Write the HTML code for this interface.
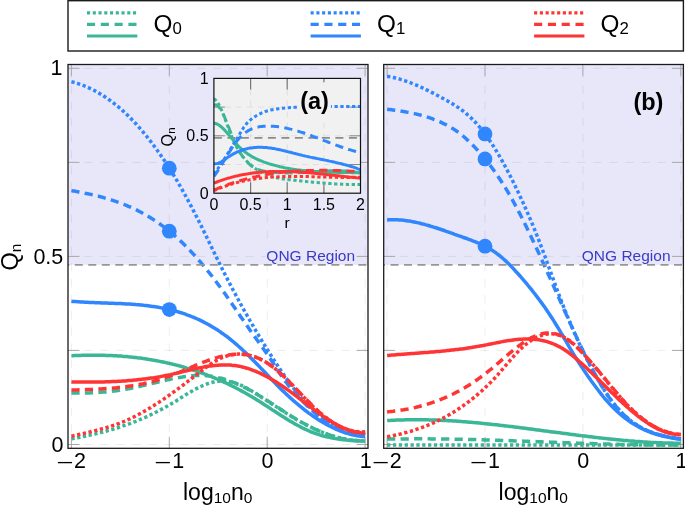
<!DOCTYPE html>
<html><head><meta charset="utf-8"><title>Qn plot</title>
<style>html,body{margin:0;padding:0;background:#fff;overflow:hidden}svg{display:block;will-change:transform}text{font-family:"Liberation Sans",sans-serif}</style>
</head><body>
<svg width="685" height="505" viewBox="0 0 685 505">
<rect width="685" height="505" fill="#fff"/>
<rect x="68" y="0.7" width="615.4" height="50.3" fill="#fff" stroke="#1a1a1a" stroke-width="1.4"/>
<line x1="87.0" y1="12.8" x2="137.3" y2="12.8" stroke="#3bb696" stroke-width="3.3" stroke-dasharray="3.1 2.65"/>
<line x1="87.0" y1="24.4" x2="137.3" y2="24.4" stroke="#3bb696" stroke-width="3.3" stroke-dasharray="8.1 5.7"/>
<line x1="87.0" y1="36" x2="137.3" y2="36" stroke="#3bb696" stroke-width="3.2"/>
<text x="153.5" y="31.6" font-size="24.3" font-family="Liberation Sans, sans-serif" fill="#000">Q<tspan font-size="16.8" dy="2.6">0</tspan></text>
<line x1="310.6" y1="12.8" x2="360.9" y2="12.8" stroke="#2f86fd" stroke-width="3.3" stroke-dasharray="3.1 2.65"/>
<line x1="310.6" y1="24.4" x2="360.9" y2="24.4" stroke="#2f86fd" stroke-width="3.3" stroke-dasharray="8.1 5.7"/>
<line x1="310.6" y1="36" x2="360.9" y2="36" stroke="#2f86fd" stroke-width="3.2"/>
<text x="377.1" y="31.6" font-size="24.3" font-family="Liberation Sans, sans-serif" fill="#000">Q<tspan font-size="16.8" dy="2.6">1</tspan></text>
<line x1="534.1" y1="12.8" x2="584.4" y2="12.8" stroke="#ff3434" stroke-width="3.3" stroke-dasharray="3.1 2.65"/>
<line x1="534.1" y1="24.4" x2="584.4" y2="24.4" stroke="#ff3434" stroke-width="3.3" stroke-dasharray="8.1 5.7"/>
<line x1="534.1" y1="36" x2="584.4" y2="36" stroke="#ff3434" stroke-width="3.2"/>
<text x="600.6" y="31.6" font-size="24.3" font-family="Liberation Sans, sans-serif" fill="#000">Q<tspan font-size="16.8" dy="2.6">2</tspan></text>
<rect x="68.0" y="64.5" width="300.0" height="200.3" fill="#e8e7fa"/>
<line x1="68.0" y1="444.5" x2="368.0" y2="444.5" stroke="#000" stroke-opacity="0.075" stroke-width="1" stroke-dasharray="8.4 7.7"/>
<line x1="68.0" y1="350.4" x2="368.0" y2="350.4" stroke="#000" stroke-opacity="0.075" stroke-width="1" stroke-dasharray="8.4 7.7"/>
<line x1="68.0" y1="256.4" x2="368.0" y2="256.4" stroke="#000" stroke-opacity="0.075" stroke-width="1" stroke-dasharray="8.4 7.7"/>
<line x1="68.0" y1="162.4" x2="368.0" y2="162.4" stroke="#000" stroke-opacity="0.075" stroke-width="1" stroke-dasharray="8.4 7.7"/>
<line x1="68.0" y1="68.3" x2="368.0" y2="68.3" stroke="#000" stroke-opacity="0.075" stroke-width="1" stroke-dasharray="8.4 7.7"/>
<line x1="71.4" y1="448.3" x2="71.4" y2="64.5" stroke="#000" stroke-opacity="0.075" stroke-width="1" stroke-dasharray="8.4 7.7"/>
<line x1="169.3" y1="448.3" x2="169.3" y2="64.5" stroke="#000" stroke-opacity="0.075" stroke-width="1" stroke-dasharray="8.4 7.7"/>
<line x1="267.2" y1="448.3" x2="267.2" y2="64.5" stroke="#000" stroke-opacity="0.075" stroke-width="1" stroke-dasharray="8.4 7.7"/>
<line x1="365.1" y1="448.3" x2="365.1" y2="64.5" stroke="#000" stroke-opacity="0.075" stroke-width="1" stroke-dasharray="8.4 7.7"/>
<line x1="68.0" y1="444.5" x2="79.5" y2="444.5" stroke="#aaa" stroke-width="1"/>
<line x1="356.5" y1="444.5" x2="368.0" y2="444.5" stroke="#aaa" stroke-width="1"/>
<line x1="68.0" y1="350.4" x2="79.5" y2="350.4" stroke="#aaa" stroke-width="1"/>
<line x1="356.5" y1="350.4" x2="368.0" y2="350.4" stroke="#aaa" stroke-width="1"/>
<line x1="68.0" y1="256.4" x2="79.5" y2="256.4" stroke="#aaa" stroke-width="1"/>
<line x1="356.5" y1="256.4" x2="368.0" y2="256.4" stroke="#aaa" stroke-width="1"/>
<line x1="68.0" y1="162.4" x2="79.5" y2="162.4" stroke="#aaa" stroke-width="1"/>
<line x1="356.5" y1="162.4" x2="368.0" y2="162.4" stroke="#aaa" stroke-width="1"/>
<line x1="68.0" y1="68.3" x2="79.5" y2="68.3" stroke="#aaa" stroke-width="1"/>
<line x1="356.5" y1="68.3" x2="368.0" y2="68.3" stroke="#aaa" stroke-width="1"/>
<line x1="71.4" y1="448.3" x2="71.4" y2="436.8" stroke="#aaa" stroke-width="1"/>
<line x1="71.4" y1="64.5" x2="71.4" y2="76.0" stroke="#aaa" stroke-width="1"/>
<line x1="169.3" y1="448.3" x2="169.3" y2="436.8" stroke="#aaa" stroke-width="1"/>
<line x1="169.3" y1="64.5" x2="169.3" y2="76.0" stroke="#aaa" stroke-width="1"/>
<line x1="267.2" y1="448.3" x2="267.2" y2="436.8" stroke="#aaa" stroke-width="1"/>
<line x1="267.2" y1="64.5" x2="267.2" y2="76.0" stroke="#aaa" stroke-width="1"/>
<line x1="365.1" y1="448.3" x2="365.1" y2="436.8" stroke="#aaa" stroke-width="1"/>
<line x1="365.1" y1="64.5" x2="365.1" y2="76.0" stroke="#aaa" stroke-width="1"/>
<rect x="266.2" y="247" width="90" height="16.2" fill="#e8e7fa"/>
<text x="355.1" y="260.5" text-anchor="end" font-size="15.5" fill="#3a3ac6" font-family="Liberation Sans, sans-serif">QNG Region</text>
<rect x="383.7" y="64.5" width="299.7" height="200.3" fill="#e8e7fa"/>
<line x1="383.7" y1="444.5" x2="683.4" y2="444.5" stroke="#000" stroke-opacity="0.075" stroke-width="1" stroke-dasharray="8.4 7.7"/>
<line x1="383.7" y1="350.4" x2="683.4" y2="350.4" stroke="#000" stroke-opacity="0.075" stroke-width="1" stroke-dasharray="8.4 7.7"/>
<line x1="383.7" y1="256.4" x2="683.4" y2="256.4" stroke="#000" stroke-opacity="0.075" stroke-width="1" stroke-dasharray="8.4 7.7"/>
<line x1="383.7" y1="162.4" x2="683.4" y2="162.4" stroke="#000" stroke-opacity="0.075" stroke-width="1" stroke-dasharray="8.4 7.7"/>
<line x1="383.7" y1="68.3" x2="683.4" y2="68.3" stroke="#000" stroke-opacity="0.075" stroke-width="1" stroke-dasharray="8.4 7.7"/>
<line x1="387.1" y1="448.3" x2="387.1" y2="64.5" stroke="#000" stroke-opacity="0.075" stroke-width="1" stroke-dasharray="8.4 7.7"/>
<line x1="485.0" y1="448.3" x2="485.0" y2="64.5" stroke="#000" stroke-opacity="0.075" stroke-width="1" stroke-dasharray="8.4 7.7"/>
<line x1="582.9" y1="448.3" x2="582.9" y2="64.5" stroke="#000" stroke-opacity="0.075" stroke-width="1" stroke-dasharray="8.4 7.7"/>
<line x1="680.8" y1="448.3" x2="680.8" y2="64.5" stroke="#000" stroke-opacity="0.075" stroke-width="1" stroke-dasharray="8.4 7.7"/>
<line x1="383.7" y1="444.5" x2="395.2" y2="444.5" stroke="#aaa" stroke-width="1"/>
<line x1="671.9" y1="444.5" x2="683.4" y2="444.5" stroke="#aaa" stroke-width="1"/>
<line x1="383.7" y1="350.4" x2="395.2" y2="350.4" stroke="#aaa" stroke-width="1"/>
<line x1="671.9" y1="350.4" x2="683.4" y2="350.4" stroke="#aaa" stroke-width="1"/>
<line x1="383.7" y1="256.4" x2="395.2" y2="256.4" stroke="#aaa" stroke-width="1"/>
<line x1="671.9" y1="256.4" x2="683.4" y2="256.4" stroke="#aaa" stroke-width="1"/>
<line x1="383.7" y1="162.4" x2="395.2" y2="162.4" stroke="#aaa" stroke-width="1"/>
<line x1="671.9" y1="162.4" x2="683.4" y2="162.4" stroke="#aaa" stroke-width="1"/>
<line x1="383.7" y1="68.3" x2="395.2" y2="68.3" stroke="#aaa" stroke-width="1"/>
<line x1="671.9" y1="68.3" x2="683.4" y2="68.3" stroke="#aaa" stroke-width="1"/>
<line x1="387.1" y1="448.3" x2="387.1" y2="436.8" stroke="#aaa" stroke-width="1"/>
<line x1="387.1" y1="64.5" x2="387.1" y2="76.0" stroke="#aaa" stroke-width="1"/>
<line x1="485.0" y1="448.3" x2="485.0" y2="436.8" stroke="#aaa" stroke-width="1"/>
<line x1="485.0" y1="64.5" x2="485.0" y2="76.0" stroke="#aaa" stroke-width="1"/>
<line x1="582.9" y1="448.3" x2="582.9" y2="436.8" stroke="#aaa" stroke-width="1"/>
<line x1="582.9" y1="64.5" x2="582.9" y2="76.0" stroke="#aaa" stroke-width="1"/>
<line x1="680.8" y1="448.3" x2="680.8" y2="436.8" stroke="#aaa" stroke-width="1"/>
<line x1="680.8" y1="64.5" x2="680.8" y2="76.0" stroke="#aaa" stroke-width="1"/>
<rect x="581.6" y="247" width="90" height="16.2" fill="#e8e7fa"/>
<text x="670.5" y="260.5" text-anchor="end" font-size="15.5" fill="#3a3ac6" font-family="Liberation Sans, sans-serif">QNG Region</text>
<clipPath id="ca"><rect x="68" y="64.5" width="300" height="383.8"/></clipPath>
<clipPath id="cb"><rect x="383.7" y="64.5" width="299.7" height="383.8"/></clipPath>
<path d="M71.4 438.9 L72.9 438.6 L74.4 438.3 L75.9 438.0 L77.4 437.7 L78.9 437.5 L80.4 437.2 L81.9 436.9 L83.4 436.5 L84.9 436.2 L86.4 435.9 L87.9 435.6 L89.4 435.3 L90.9 434.9 L92.4 434.6 L93.9 434.2 L95.4 433.9 L96.9 433.5 L98.4 433.2 L99.9 432.8 L101.4 432.4 L102.9 432.0 L104.4 431.6 L105.9 431.2 L107.4 430.8 L108.9 430.4 L110.4 429.9 L111.9 429.5 L113.4 429.1 L114.9 428.6 L116.4 428.1 L117.9 427.7 L119.4 427.2 L120.9 426.7 L122.4 426.2 L123.9 425.7 L125.4 425.2 L126.9 424.6 L128.4 424.1 L129.9 423.6 L131.4 423.0 L132.9 422.4 L134.4 421.8 L135.9 421.3 L137.4 420.7 L138.9 420.0 L140.4 419.4 L141.9 418.8 L143.4 418.1 L144.9 417.5 L146.4 416.8 L147.9 416.1 L149.4 415.4 L150.9 414.7 L152.4 414.0 L153.9 413.3 L155.4 412.5 L156.9 411.8 L158.4 411.0 L159.9 410.2 L161.4 409.4 L162.9 408.6 L164.4 407.8 L165.9 406.9 L167.4 406.1 L168.9 405.2 L170.4 404.3 L171.9 403.4 L173.4 402.5 L174.9 401.6 L176.4 400.7 L177.9 399.7 L179.4 398.8 L180.9 397.8 L182.4 396.9 L183.9 396.0 L185.4 395.0 L186.9 394.1 L188.4 393.2 L189.9 392.3 L191.4 391.4 L192.9 390.6 L194.4 389.7 L195.9 388.9 L197.4 388.1 L198.9 387.4 L200.4 386.6 L201.9 386.0 L203.4 385.3 L204.9 384.7 L206.4 384.1 L207.9 383.6 L209.4 383.1 L210.9 382.7 L212.4 382.3 L213.9 382.0 L215.4 381.7 L216.9 381.5 L218.4 381.3 L219.9 381.2 L221.4 381.1 L222.9 381.1 L224.4 381.1 L225.9 381.2 L227.4 381.4 L228.9 381.6 L230.4 381.8 L231.9 382.1 L233.4 382.5 L234.9 382.9 L236.4 383.4 L237.9 383.9 L239.4 384.5 L240.9 385.2 L242.4 385.9 L243.9 386.6 L245.4 387.4 L246.9 388.2 L248.4 389.0 L249.9 389.9 L251.4 390.8 L252.9 391.7 L254.4 392.6 L255.9 393.6 L257.4 394.5 L258.9 395.4 L260.4 396.4 L261.9 397.4 L263.4 398.3 L264.9 399.3 L266.4 400.3 L267.9 401.2 L269.4 402.2 L270.9 403.2 L272.4 404.2 L273.9 405.2 L275.4 406.1 L276.9 407.1 L278.4 408.1 L279.9 409.1 L281.4 410.1 L282.9 411.0 L284.4 412.0 L285.9 412.9 L287.4 413.9 L288.9 414.8 L290.4 415.8 L291.9 416.7 L293.4 417.6 L294.9 418.5 L296.4 419.4 L297.9 420.3 L299.4 421.1 L300.9 422.0 L302.4 422.8 L303.9 423.6 L305.4 424.4 L306.9 425.2 L308.4 425.9 L309.9 426.7 L311.4 427.4 L312.9 428.1 L314.4 428.8 L315.9 429.5 L317.4 430.2 L318.9 430.8 L320.4 431.4 L321.9 432.0 L323.4 432.6 L324.9 433.2 L326.4 433.7 L327.9 434.3 L329.4 434.8 L330.9 435.3 L332.4 435.8 L333.9 436.2 L335.4 436.7 L336.9 437.1 L338.4 437.5 L339.9 437.8 L341.4 438.2 L342.9 438.5 L344.4 438.8 L345.9 439.1 L347.4 439.4 L348.9 439.7 L350.4 439.9 L351.9 440.1 L353.4 440.3 L354.9 440.4 L356.4 440.6 L357.9 440.7 L359.4 440.8 L360.9 440.9 L362.4 440.9 L363.9 440.9 L365.1 440.9" fill="none" stroke="#3bb696" stroke-width="3.5" stroke-dasharray="3.3 2.55" clip-path="url(#ca)"/>
<path d="M71.4 393.1 L72.9 393.1 L74.4 393.1 L75.9 393.1 L77.4 393.1 L78.9 393.1 L80.4 393.1 L81.9 393.1 L83.4 393.1 L84.9 393.0 L86.4 393.0 L87.9 392.9 L89.4 392.9 L90.9 392.8 L92.4 392.8 L93.9 392.7 L95.4 392.6 L96.9 392.5 L98.4 392.4 L99.9 392.3 L101.4 392.2 L102.9 392.1 L104.4 392.0 L105.9 391.9 L107.4 391.7 L108.9 391.6 L110.4 391.4 L111.9 391.2 L113.4 391.1 L114.9 390.9 L116.4 390.7 L117.9 390.5 L119.4 390.3 L120.9 390.0 L122.4 389.8 L123.9 389.6 L125.4 389.3 L126.9 389.1 L128.4 388.8 L129.9 388.5 L131.4 388.2 L132.9 387.9 L134.4 387.6 L135.9 387.3 L137.4 386.9 L138.9 386.6 L140.4 386.3 L141.9 385.9 L143.4 385.6 L144.9 385.2 L146.4 384.9 L147.9 384.5 L149.4 384.2 L150.9 383.8 L152.4 383.4 L153.9 383.1 L155.4 382.7 L156.9 382.3 L158.4 382.0 L159.9 381.6 L161.4 381.3 L162.9 380.9 L164.4 380.6 L165.9 380.2 L167.4 379.9 L168.9 379.6 L170.4 379.2 L171.9 378.9 L173.4 378.6 L174.9 378.3 L176.4 378.0 L177.9 377.7 L179.4 377.5 L180.9 377.2 L182.4 377.0 L183.9 376.7 L185.4 376.5 L186.9 376.3 L188.4 376.1 L189.9 376.0 L191.4 375.8 L192.9 375.7 L194.4 375.6 L195.9 375.5 L197.4 375.5 L198.9 375.4 L200.4 375.4 L201.9 375.5 L203.4 375.5 L204.9 375.6 L206.4 375.7 L207.9 375.8 L209.4 376.0 L210.9 376.2 L212.4 376.4 L213.9 376.6 L215.4 376.9 L216.9 377.2 L218.4 377.6 L219.9 377.9 L221.4 378.3 L222.9 378.7 L224.4 379.2 L225.9 379.7 L227.4 380.1 L228.9 380.7 L230.4 381.2 L231.9 381.8 L233.4 382.4 L234.9 383.0 L236.4 383.6 L237.9 384.3 L239.4 384.9 L240.9 385.6 L242.4 386.3 L243.9 387.1 L245.4 387.8 L246.9 388.6 L248.4 389.4 L249.9 390.2 L251.4 391.1 L252.9 391.9 L254.4 392.8 L255.9 393.6 L257.4 394.5 L258.9 395.4 L260.4 396.3 L261.9 397.3 L263.4 398.2 L264.9 399.1 L266.4 400.1 L267.9 401.0 L269.4 402.0 L270.9 403.0 L272.4 403.9 L273.9 404.9 L275.4 405.9 L276.9 406.9 L278.4 407.8 L279.9 408.8 L281.4 409.8 L282.9 410.8 L284.4 411.7 L285.9 412.7 L287.4 413.6 L288.9 414.6 L290.4 415.5 L291.9 416.5 L293.4 417.4 L294.9 418.3 L296.4 419.2 L297.9 420.1 L299.4 421.0 L300.9 421.8 L302.4 422.7 L303.9 423.5 L305.4 424.3 L306.9 425.1 L308.4 425.9 L309.9 426.7 L311.4 427.4 L312.9 428.1 L314.4 428.9 L315.9 429.6 L317.4 430.2 L318.9 430.9 L320.4 431.5 L321.9 432.2 L323.4 432.8 L324.9 433.4 L326.4 433.9 L327.9 434.5 L329.4 435.0 L330.9 435.5 L332.4 436.0 L333.9 436.4 L335.4 436.9 L336.9 437.3 L338.4 437.7 L339.9 438.1 L341.4 438.4 L342.9 438.7 L344.4 439.1 L345.9 439.3 L347.4 439.6 L348.9 439.8 L350.4 440.0 L351.9 440.2 L353.4 440.4 L354.9 440.5 L356.4 440.6 L357.9 440.7 L359.4 440.7 L360.9 440.8 L362.4 440.8 L363.9 440.7 L365.1 440.7" fill="none" stroke="#3bb696" stroke-width="3.5" stroke-dasharray="8.2 5.3" clip-path="url(#ca)"/>
<path d="M71.4 355.7 L72.9 355.7 L74.4 355.6 L75.9 355.5 L77.4 355.5 L78.9 355.4 L80.4 355.4 L81.9 355.3 L83.4 355.3 L84.9 355.3 L86.4 355.2 L87.9 355.2 L89.4 355.2 L90.9 355.2 L92.4 355.2 L93.9 355.2 L95.4 355.2 L96.9 355.2 L98.4 355.2 L99.9 355.2 L101.4 355.2 L102.9 355.3 L104.4 355.3 L105.9 355.4 L107.4 355.4 L108.9 355.5 L110.4 355.5 L111.9 355.6 L113.4 355.7 L114.9 355.8 L116.4 355.8 L117.9 355.9 L119.4 356.0 L120.9 356.1 L122.4 356.3 L123.9 356.4 L125.4 356.5 L126.9 356.6 L128.4 356.8 L129.9 356.9 L131.4 357.1 L132.9 357.2 L134.4 357.4 L135.9 357.6 L137.4 357.8 L138.9 357.9 L140.4 358.1 L141.9 358.3 L143.4 358.6 L144.9 358.8 L146.4 359.0 L147.9 359.2 L149.4 359.5 L150.9 359.7 L152.4 360.0 L153.9 360.2 L155.4 360.5 L156.9 360.8 L158.4 361.1 L159.9 361.4 L161.4 361.7 L162.9 362.0 L164.4 362.3 L165.9 362.6 L167.4 363.0 L168.9 363.3 L170.4 363.6 L171.9 364.0 L173.4 364.4 L174.9 364.8 L176.4 365.1 L177.9 365.5 L179.4 365.9 L180.9 366.3 L182.4 366.8 L183.9 367.2 L185.4 367.6 L186.9 368.1 L188.4 368.5 L189.9 369.0 L191.4 369.5 L192.9 370.0 L194.4 370.4 L195.9 370.9 L197.4 371.5 L198.9 372.0 L200.4 372.5 L201.9 373.0 L203.4 373.6 L204.9 374.2 L206.4 374.7 L207.9 375.3 L209.4 375.9 L210.9 376.5 L212.4 377.1 L213.9 377.7 L215.4 378.3 L216.9 379.0 L218.4 379.6 L219.9 380.3 L221.4 380.9 L222.9 381.6 L224.4 382.3 L225.9 383.0 L227.4 383.7 L228.9 384.4 L230.4 385.2 L231.9 385.9 L233.4 386.7 L234.9 387.4 L236.4 388.2 L237.9 389.0 L239.4 389.8 L240.9 390.6 L242.4 391.4 L243.9 392.2 L245.4 393.1 L246.9 393.9 L248.4 394.8 L249.9 395.7 L251.4 396.5 L252.9 397.4 L254.4 398.3 L255.9 399.3 L257.4 400.2 L258.9 401.1 L260.4 402.1 L261.9 403.0 L263.4 404.0 L264.9 405.0 L266.4 405.9 L267.9 406.9 L269.4 407.9 L270.9 408.9 L272.4 409.9 L273.9 410.8 L275.4 411.8 L276.9 412.8 L278.4 413.8 L279.9 414.7 L281.4 415.7 L282.9 416.6 L284.4 417.6 L285.9 418.5 L287.4 419.4 L288.9 420.4 L290.4 421.3 L291.9 422.1 L293.4 423.0 L294.9 423.9 L296.4 424.7 L297.9 425.5 L299.4 426.3 L300.9 427.1 L302.4 427.9 L303.9 428.6 L305.4 429.3 L306.9 430.0 L308.4 430.7 L309.9 431.3 L311.4 432.0 L312.9 432.5 L314.4 433.1 L315.9 433.6 L317.4 434.2 L318.9 434.6 L320.4 435.1 L321.9 435.5 L323.4 436.0 L324.9 436.4 L326.4 436.7 L327.9 437.1 L329.4 437.4 L330.9 437.7 L332.4 438.0 L333.9 438.3 L335.4 438.6 L336.9 438.8 L338.4 439.1 L339.9 439.3 L341.4 439.5 L342.9 439.7 L344.4 439.8 L345.9 440.0 L347.4 440.1 L348.9 440.3 L350.4 440.4 L351.9 440.5 L353.4 440.6 L354.9 440.7 L356.4 440.8 L357.9 440.9 L359.4 440.9 L360.9 441.0 L362.4 441.1 L363.9 441.1 L365.1 441.2" fill="none" stroke="#3bb696" stroke-width="3.5" clip-path="url(#ca)"/>
<path d="M71.4 81.7 L72.9 82.1 L74.4 82.5 L75.9 82.9 L77.4 83.4 L78.9 83.9 L80.4 84.4 L81.9 84.9 L83.4 85.5 L84.9 86.1 L86.4 86.7 L87.9 87.4 L89.4 88.1 L90.9 88.8 L92.4 89.5 L93.9 90.3 L95.4 91.1 L96.9 91.9 L98.4 92.8 L99.9 93.7 L101.4 94.6 L102.9 95.5 L104.4 96.5 L105.9 97.5 L107.4 98.5 L108.9 99.6 L110.4 100.7 L111.9 101.8 L113.4 102.9 L114.9 104.1 L116.4 105.3 L117.9 106.5 L119.4 107.8 L120.9 109.1 L122.4 110.4 L123.9 111.8 L125.4 113.2 L126.9 114.6 L128.4 116.1 L129.9 117.6 L131.4 119.1 L132.9 120.6 L134.4 122.2 L135.9 123.8 L137.4 125.5 L138.9 127.1 L140.4 128.9 L141.9 130.6 L143.4 132.4 L144.9 134.2 L146.4 136.0 L147.9 137.9 L149.4 139.8 L150.9 141.7 L152.4 143.7 L153.9 145.7 L155.4 147.7 L156.9 149.8 L158.4 151.9 L159.9 154.0 L161.4 156.2 L162.9 158.4 L164.4 160.6 L165.9 162.9 L167.4 165.2 L168.9 167.5 L170.4 169.9 L171.9 172.3 L173.4 174.8 L174.9 177.2 L176.4 179.7 L177.9 182.3 L179.4 184.9 L180.9 187.5 L182.4 190.1 L183.9 192.8 L185.4 195.5 L186.9 198.3 L188.4 201.1 L189.9 203.9 L191.4 206.7 L192.9 209.6 L194.4 212.5 L195.9 215.4 L197.4 218.3 L198.9 221.3 L200.4 224.3 L201.9 227.3 L203.4 230.4 L204.9 233.4 L206.4 236.5 L207.9 239.6 L209.4 242.7 L210.9 245.8 L212.4 248.9 L213.9 252.0 L215.4 255.1 L216.9 258.2 L218.4 261.2 L219.9 264.3 L221.4 267.3 L222.9 270.3 L224.4 273.2 L225.9 276.2 L227.4 279.1 L228.9 282.0 L230.4 284.9 L231.9 287.8 L233.4 290.6 L234.9 293.4 L236.4 296.2 L237.9 299.0 L239.4 301.8 L240.9 304.5 L242.4 307.2 L243.9 309.9 L245.4 312.6 L246.9 315.2 L248.4 317.9 L249.9 320.5 L251.4 323.1 L252.9 325.7 L254.4 328.2 L255.9 330.8 L257.4 333.3 L258.9 335.8 L260.4 338.3 L261.9 340.8 L263.4 343.3 L264.9 345.7 L266.4 348.1 L267.9 350.5 L269.4 352.9 L270.9 355.3 L272.4 357.6 L273.9 360.0 L275.4 362.3 L276.9 364.5 L278.4 366.8 L279.9 369.0 L281.4 371.2 L282.9 373.4 L284.4 375.6 L285.9 377.7 L287.4 379.8 L288.9 381.8 L290.4 383.9 L291.9 385.9 L293.4 387.9 L294.9 389.8 L296.4 391.8 L297.9 393.7 L299.4 395.6 L300.9 397.4 L302.4 399.2 L303.9 401.0 L305.4 402.7 L306.9 404.4 L308.4 406.0 L309.9 407.6 L311.4 409.1 L312.9 410.5 L314.4 411.9 L315.9 413.3 L317.4 414.6 L318.9 415.8 L320.4 417.0 L321.9 418.1 L323.4 419.2 L324.9 420.2 L326.4 421.1 L327.9 422.0 L329.4 422.8 L330.9 423.6 L332.4 424.4 L333.9 425.1 L335.4 425.7 L336.9 426.3 L338.4 426.9 L339.9 427.5 L341.4 428.0 L342.9 428.5 L344.4 429.0 L345.9 429.5 L347.4 429.9 L348.9 430.3 L350.4 430.7 L351.9 431.2 L353.4 431.6 L354.9 432.0 L356.4 432.4 L357.9 432.8 L359.4 433.2 L360.9 433.6 L362.4 434.0 L363.9 434.5 L365.1 434.8" fill="none" stroke="#2f86fd" stroke-width="3.5" stroke-dasharray="3.3 2.55" clip-path="url(#ca)"/>
<path d="M71.4 190.6 L72.9 190.9 L74.4 191.1 L75.9 191.4 L77.4 191.7 L78.9 192.0 L80.4 192.3 L81.9 192.5 L83.4 192.8 L84.9 193.2 L86.4 193.5 L87.9 193.8 L89.4 194.1 L90.9 194.4 L92.4 194.8 L93.9 195.1 L95.4 195.5 L96.9 195.9 L98.4 196.2 L99.9 196.6 L101.4 197.0 L102.9 197.4 L104.4 197.9 L105.9 198.3 L107.4 198.7 L108.9 199.2 L110.4 199.6 L111.9 200.1 L113.4 200.6 L114.9 201.1 L116.4 201.6 L117.9 202.2 L119.4 202.7 L120.9 203.3 L122.4 203.8 L123.9 204.4 L125.4 205.0 L126.9 205.6 L128.4 206.3 L129.9 206.9 L131.4 207.6 L132.9 208.3 L134.4 209.0 L135.9 209.7 L137.4 210.4 L138.9 211.2 L140.4 212.0 L141.9 212.8 L143.4 213.6 L144.9 214.4 L146.4 215.3 L147.9 216.2 L149.4 217.1 L150.9 218.0 L152.4 218.9 L153.9 219.9 L155.4 220.9 L156.9 221.9 L158.4 222.9 L159.9 224.0 L161.4 225.1 L162.9 226.2 L164.4 227.3 L165.9 228.5 L167.4 229.6 L168.9 230.8 L170.4 232.1 L171.9 233.3 L173.4 234.6 L174.9 235.9 L176.4 237.2 L177.9 238.6 L179.4 240.0 L180.9 241.4 L182.4 242.8 L183.9 244.3 L185.4 245.8 L186.9 247.3 L188.4 248.8 L189.9 250.4 L191.4 252.0 L192.9 253.6 L194.4 255.2 L195.9 256.9 L197.4 258.6 L198.9 260.3 L200.4 262.0 L201.9 263.8 L203.4 265.6 L204.9 267.4 L206.4 269.2 L207.9 271.1 L209.4 272.9 L210.9 274.8 L212.4 276.8 L213.9 278.7 L215.4 280.7 L216.9 282.7 L218.4 284.7 L219.9 286.7 L221.4 288.8 L222.9 290.9 L224.4 293.0 L225.9 295.1 L227.4 297.3 L228.9 299.4 L230.4 301.6 L231.9 303.8 L233.4 305.9 L234.9 308.1 L236.4 310.3 L237.9 312.5 L239.4 314.7 L240.9 316.9 L242.4 319.1 L243.9 321.2 L245.4 323.4 L246.9 325.6 L248.4 327.7 L249.9 329.9 L251.4 332.0 L252.9 334.1 L254.4 336.2 L255.9 338.3 L257.4 340.4 L258.9 342.5 L260.4 344.6 L261.9 346.7 L263.4 348.8 L264.9 350.9 L266.4 353.1 L267.9 355.3 L269.4 357.5 L270.9 359.7 L272.4 362.0 L273.9 364.3 L275.4 366.6 L276.9 368.9 L278.4 371.2 L279.9 373.5 L281.4 375.7 L282.9 377.9 L284.4 380.0 L285.9 382.0 L287.4 384.0 L288.9 385.9 L290.4 387.7 L291.9 389.4 L293.4 391.2 L294.9 392.8 L296.4 394.5 L297.9 396.1 L299.4 397.8 L300.9 399.4 L302.4 401.0 L303.9 402.5 L305.4 404.0 L306.9 405.5 L308.4 407.0 L309.9 408.5 L311.4 409.9 L312.9 411.2 L314.4 412.5 L315.9 413.8 L317.4 415.1 L318.9 416.3 L320.4 417.4 L321.9 418.5 L323.4 419.6 L324.9 420.5 L326.4 421.5 L327.9 422.4 L329.4 423.2 L330.9 424.0 L332.4 424.8 L333.9 425.5 L335.4 426.2 L336.9 426.8 L338.4 427.4 L339.9 428.0 L341.4 428.5 L342.9 429.0 L344.4 429.5 L345.9 430.0 L347.4 430.5 L348.9 430.9 L350.4 431.3 L351.9 431.7 L353.4 432.1 L354.9 432.5 L356.4 432.9 L357.9 433.3 L359.4 433.7 L360.9 434.1 L362.4 434.5 L363.9 434.9 L365.1 435.2" fill="none" stroke="#2f86fd" stroke-width="3.5" stroke-dasharray="8.2 5.3" clip-path="url(#ca)"/>
<path d="M71.4 301.2 L72.9 301.4 L74.4 301.5 L75.9 301.6 L77.4 301.7 L78.9 301.8 L80.4 301.9 L81.9 302.0 L83.4 302.1 L84.9 302.2 L86.4 302.3 L87.9 302.3 L89.4 302.4 L90.9 302.5 L92.4 302.6 L93.9 302.6 L95.4 302.7 L96.9 302.7 L98.4 302.8 L99.9 302.8 L101.4 302.9 L102.9 302.9 L104.4 303.0 L105.9 303.1 L107.4 303.1 L108.9 303.2 L110.4 303.2 L111.9 303.3 L113.4 303.3 L114.9 303.4 L116.4 303.4 L117.9 303.5 L119.4 303.6 L120.9 303.6 L122.4 303.7 L123.9 303.8 L125.4 303.9 L126.9 303.9 L128.4 304.0 L129.9 304.1 L131.4 304.2 L132.9 304.3 L134.4 304.4 L135.9 304.6 L137.4 304.7 L138.9 304.8 L140.4 305.0 L141.9 305.1 L143.4 305.3 L144.9 305.4 L146.4 305.6 L147.9 305.8 L149.4 306.0 L150.9 306.2 L152.4 306.4 L153.9 306.6 L155.4 306.8 L156.9 307.1 L158.4 307.3 L159.9 307.6 L161.4 307.9 L162.9 308.2 L164.4 308.5 L165.9 308.8 L167.4 309.1 L168.9 309.5 L170.4 309.8 L171.9 310.2 L173.4 310.6 L174.9 311.0 L176.4 311.4 L177.9 311.8 L179.4 312.3 L180.9 312.7 L182.4 313.2 L183.9 313.7 L185.4 314.2 L186.9 314.8 L188.4 315.3 L189.9 315.9 L191.4 316.5 L192.9 317.1 L194.4 317.7 L195.9 318.4 L197.4 319.0 L198.9 319.7 L200.4 320.4 L201.9 321.1 L203.4 321.9 L204.9 322.7 L206.4 323.5 L207.9 324.3 L209.4 325.1 L210.9 326.0 L212.4 326.9 L213.9 327.8 L215.4 328.7 L216.9 329.6 L218.4 330.6 L219.9 331.6 L221.4 332.7 L222.9 333.7 L224.4 334.8 L225.9 335.9 L227.4 337.0 L228.9 338.2 L230.4 339.4 L231.9 340.6 L233.4 341.8 L234.9 343.1 L236.4 344.4 L237.9 345.7 L239.4 347.0 L240.9 348.4 L242.4 349.8 L243.9 351.2 L245.4 352.6 L246.9 354.0 L248.4 355.5 L249.9 356.9 L251.4 358.4 L252.9 359.9 L254.4 361.4 L255.9 363.0 L257.4 364.5 L258.9 366.1 L260.4 367.6 L261.9 369.2 L263.4 370.8 L264.9 372.3 L266.4 373.9 L267.9 375.5 L269.4 377.1 L270.9 378.7 L272.4 380.2 L273.9 381.8 L275.4 383.4 L276.9 384.9 L278.4 386.4 L279.9 387.9 L281.4 389.4 L282.9 390.9 L284.4 392.3 L285.9 393.7 L287.4 395.1 L288.9 396.5 L290.4 397.9 L291.9 399.2 L293.4 400.6 L294.9 401.9 L296.4 403.2 L297.9 404.4 L299.4 405.7 L300.9 406.9 L302.4 408.1 L303.9 409.3 L305.4 410.5 L306.9 411.6 L308.4 412.8 L309.9 413.9 L311.4 414.9 L312.9 416.0 L314.4 417.0 L315.9 418.0 L317.4 419.0 L318.9 420.0 L320.4 420.9 L321.9 421.8 L323.4 422.7 L324.9 423.6 L326.4 424.4 L327.9 425.2 L329.4 426.0 L330.9 426.8 L332.4 427.5 L333.9 428.2 L335.4 428.9 L336.9 429.6 L338.4 430.2 L339.9 430.8 L341.4 431.4 L342.9 431.9 L344.4 432.5 L345.9 433.0 L347.4 433.4 L348.9 433.9 L350.4 434.3 L351.9 434.7 L353.4 435.0 L354.9 435.3 L356.4 435.6 L357.9 435.9 L359.4 436.1 L360.9 436.3 L362.4 436.5 L363.9 436.6 L365.1 436.7" fill="none" stroke="#2f86fd" stroke-width="3.5" clip-path="url(#ca)"/>
<path d="M71.4 436.3 L72.9 435.9 L74.4 435.5 L75.9 435.2 L77.4 434.9 L78.9 434.5 L80.4 434.2 L81.9 433.8 L83.4 433.5 L84.9 433.1 L86.4 432.8 L87.9 432.4 L89.4 432.1 L90.9 431.7 L92.4 431.3 L93.9 431.0 L95.4 430.6 L96.9 430.2 L98.4 429.8 L99.9 429.4 L101.4 429.0 L102.9 428.6 L104.4 428.2 L105.9 427.8 L107.4 427.3 L108.9 426.9 L110.4 426.4 L111.9 425.9 L113.4 425.4 L114.9 424.9 L116.4 424.4 L117.9 423.8 L119.4 423.3 L120.9 422.7 L122.4 422.1 L123.9 421.5 L125.4 420.9 L126.9 420.2 L128.4 419.5 L129.9 418.9 L131.4 418.1 L132.9 417.4 L134.4 416.7 L135.9 415.9 L137.4 415.1 L138.9 414.3 L140.4 413.5 L141.9 412.7 L143.4 411.8 L144.9 410.9 L146.4 410.1 L147.9 409.2 L149.4 408.3 L150.9 407.4 L152.4 406.4 L153.9 405.5 L155.4 404.5 L156.9 403.6 L158.4 402.6 L159.9 401.6 L161.4 400.6 L162.9 399.6 L164.4 398.6 L165.9 397.5 L167.4 396.5 L168.9 395.4 L170.4 394.4 L171.9 393.3 L173.4 392.2 L174.9 391.1 L176.4 390.0 L177.9 388.9 L179.4 387.8 L180.9 386.7 L182.4 385.6 L183.9 384.5 L185.4 383.3 L186.9 382.2 L188.4 381.0 L189.9 379.9 L191.4 378.7 L192.9 377.5 L194.4 376.4 L195.9 375.2 L197.4 374.0 L198.9 372.8 L200.4 371.7 L201.9 370.5 L203.4 369.4 L204.9 368.2 L206.4 367.1 L207.9 366.1 L209.4 365.0 L210.9 364.0 L212.4 363.0 L213.9 362.0 L215.4 361.1 L216.9 360.3 L218.4 359.5 L219.9 358.7 L221.4 358.0 L222.9 357.4 L224.4 356.8 L225.9 356.3 L227.4 355.8 L228.9 355.4 L230.4 355.1 L231.9 354.8 L233.4 354.5 L234.9 354.4 L236.4 354.2 L237.9 354.1 L239.4 354.1 L240.9 354.1 L242.4 354.2 L243.9 354.4 L245.4 354.5 L246.9 354.8 L248.4 355.1 L249.9 355.4 L251.4 355.8 L252.9 356.3 L254.4 356.7 L255.9 357.3 L257.4 357.9 L258.9 358.5 L260.4 359.2 L261.9 360.0 L263.4 360.8 L264.9 361.6 L266.4 362.5 L267.9 363.5 L269.4 364.5 L270.9 365.5 L272.4 366.6 L273.9 367.7 L275.4 368.9 L276.9 370.1 L278.4 371.4 L279.9 372.7 L281.4 374.1 L282.9 375.5 L284.4 376.9 L285.9 378.4 L287.4 379.9 L288.9 381.4 L290.4 382.9 L291.9 384.5 L293.4 386.1 L294.9 387.7 L296.4 389.3 L297.9 390.9 L299.4 392.5 L300.9 394.1 L302.4 395.7 L303.9 397.3 L305.4 398.8 L306.9 400.4 L308.4 401.9 L309.9 403.5 L311.4 405.0 L312.9 406.4 L314.4 407.9 L315.9 409.3 L317.4 410.6 L318.9 411.9 L320.4 413.2 L321.9 414.5 L323.4 415.7 L324.9 416.8 L326.4 418.0 L327.9 419.1 L329.4 420.1 L330.9 421.1 L332.4 422.1 L333.9 423.0 L335.4 423.9 L336.9 424.7 L338.4 425.5 L339.9 426.3 L341.4 427.0 L342.9 427.7 L344.4 428.3 L345.9 428.9 L347.4 429.4 L348.9 429.9 L350.4 430.3 L351.9 430.7 L353.4 431.0 L354.9 431.3 L356.4 431.6 L357.9 431.8 L359.4 432.0 L360.9 432.1 L362.4 432.1 L363.9 432.1 L365.1 432.1" fill="none" stroke="#ff3434" stroke-width="3.5" stroke-dasharray="3.3 2.55" clip-path="url(#ca)"/>
<path d="M71.4 390.0 L72.9 390.0 L74.4 390.0 L75.9 389.9 L77.4 389.9 L78.9 389.8 L80.4 389.8 L81.9 389.8 L83.4 389.7 L84.9 389.7 L86.4 389.6 L87.9 389.6 L89.4 389.5 L90.9 389.4 L92.4 389.4 L93.9 389.3 L95.4 389.2 L96.9 389.2 L98.4 389.1 L99.9 389.0 L101.4 388.9 L102.9 388.8 L104.4 388.7 L105.9 388.6 L107.4 388.5 L108.9 388.4 L110.4 388.3 L111.9 388.2 L113.4 388.0 L114.9 387.9 L116.4 387.8 L117.9 387.6 L119.4 387.4 L120.9 387.3 L122.4 387.1 L123.9 386.9 L125.4 386.7 L126.9 386.5 L128.4 386.3 L129.9 386.1 L131.4 385.9 L132.9 385.6 L134.4 385.4 L135.9 385.1 L137.4 384.8 L138.9 384.6 L140.4 384.3 L141.9 384.0 L143.4 383.7 L144.9 383.3 L146.4 383.0 L147.9 382.6 L149.4 382.3 L150.9 381.9 L152.4 381.5 L153.9 381.1 L155.4 380.7 L156.9 380.3 L158.4 379.9 L159.9 379.4 L161.4 378.9 L162.9 378.5 L164.4 378.0 L165.9 377.4 L167.4 376.9 L168.9 376.4 L170.4 375.8 L171.9 375.3 L173.4 374.7 L174.9 374.1 L176.4 373.5 L177.9 372.9 L179.4 372.3 L180.9 371.6 L182.4 371.0 L183.9 370.4 L185.4 369.7 L186.9 369.1 L188.4 368.4 L189.9 367.8 L191.4 367.2 L192.9 366.5 L194.4 365.9 L195.9 365.2 L197.4 364.6 L198.9 364.0 L200.4 363.4 L201.9 362.8 L203.4 362.2 L204.9 361.6 L206.4 361.1 L207.9 360.5 L209.4 360.0 L210.9 359.5 L212.4 359.0 L213.9 358.5 L215.4 358.0 L216.9 357.6 L218.4 357.1 L219.9 356.7 L221.4 356.4 L222.9 356.0 L224.4 355.7 L225.9 355.4 L227.4 355.1 L228.9 354.9 L230.4 354.7 L231.9 354.5 L233.4 354.4 L234.9 354.3 L236.4 354.2 L237.9 354.2 L239.4 354.2 L240.9 354.2 L242.4 354.3 L243.9 354.4 L245.4 354.6 L246.9 354.8 L248.4 355.1 L249.9 355.4 L251.4 355.8 L252.9 356.2 L254.4 356.7 L255.9 357.2 L257.4 357.8 L258.9 358.4 L260.4 359.1 L261.9 359.9 L263.4 360.7 L264.9 361.6 L266.4 362.5 L267.9 363.4 L269.4 364.5 L270.9 365.5 L272.4 366.7 L273.9 367.8 L275.4 369.0 L276.9 370.3 L278.4 371.6 L279.9 372.9 L281.4 374.3 L282.9 375.7 L284.4 377.1 L285.9 378.5 L287.4 380.0 L288.9 381.5 L290.4 383.0 L291.9 384.5 L293.4 386.1 L294.9 387.6 L296.4 389.2 L297.9 390.8 L299.4 392.3 L300.9 393.9 L302.4 395.5 L303.9 397.0 L305.4 398.6 L306.9 400.1 L308.4 401.6 L309.9 403.1 L311.4 404.6 L312.9 406.1 L314.4 407.5 L315.9 408.9 L317.4 410.3 L318.9 411.7 L320.4 413.0 L321.9 414.3 L323.4 415.5 L324.9 416.8 L326.4 417.9 L327.9 419.1 L329.4 420.2 L330.9 421.2 L332.4 422.3 L333.9 423.2 L335.4 424.2 L336.9 425.1 L338.4 425.9 L339.9 426.7 L341.4 427.5 L342.9 428.2 L344.4 428.8 L345.9 429.4 L347.4 430.0 L348.9 430.5 L350.4 430.9 L351.9 431.3 L353.4 431.6 L354.9 431.9 L356.4 432.1 L357.9 432.2 L359.4 432.3 L360.9 432.3 L362.4 432.3 L363.9 432.2 L365.1 432.0" fill="none" stroke="#ff3434" stroke-width="3.5" stroke-dasharray="8.2 5.3" clip-path="url(#ca)"/>
<path d="M71.4 382.0 L72.9 382.1 L74.4 382.1 L75.9 382.1 L77.4 382.1 L78.9 382.1 L80.4 382.1 L81.9 382.1 L83.4 382.1 L84.9 382.1 L86.4 382.1 L87.9 382.1 L89.4 382.1 L90.9 382.1 L92.4 382.1 L93.9 382.1 L95.4 382.1 L96.9 382.0 L98.4 382.0 L99.9 382.0 L101.4 381.9 L102.9 381.9 L104.4 381.9 L105.9 381.8 L107.4 381.8 L108.9 381.7 L110.4 381.7 L111.9 381.6 L113.4 381.6 L114.9 381.5 L116.4 381.4 L117.9 381.3 L119.4 381.2 L120.9 381.2 L122.4 381.1 L123.9 381.0 L125.4 380.9 L126.9 380.7 L128.4 380.6 L129.9 380.5 L131.4 380.4 L132.9 380.2 L134.4 380.1 L135.9 380.0 L137.4 379.8 L138.9 379.6 L140.4 379.5 L141.9 379.3 L143.4 379.1 L144.9 378.9 L146.4 378.7 L147.9 378.5 L149.4 378.3 L150.9 378.1 L152.4 377.9 L153.9 377.7 L155.4 377.4 L156.9 377.2 L158.4 376.9 L159.9 376.7 L161.4 376.4 L162.9 376.1 L164.4 375.8 L165.9 375.5 L167.4 375.2 L168.9 374.9 L170.4 374.6 L171.9 374.2 L173.4 373.9 L174.9 373.5 L176.4 373.2 L177.9 372.8 L179.4 372.5 L180.9 372.1 L182.4 371.8 L183.9 371.4 L185.4 371.0 L186.9 370.7 L188.4 370.3 L189.9 370.0 L191.4 369.6 L192.9 369.3 L194.4 368.9 L195.9 368.6 L197.4 368.3 L198.9 368.0 L200.4 367.7 L201.9 367.4 L203.4 367.1 L204.9 366.8 L206.4 366.6 L207.9 366.3 L209.4 366.1 L210.9 365.9 L212.4 365.7 L213.9 365.6 L215.4 365.4 L216.9 365.3 L218.4 365.2 L219.9 365.1 L221.4 365.0 L222.9 365.0 L224.4 364.9 L225.9 365.0 L227.4 365.0 L228.9 365.1 L230.4 365.1 L231.9 365.3 L233.4 365.4 L234.9 365.6 L236.4 365.8 L237.9 366.1 L239.4 366.3 L240.9 366.6 L242.4 367.0 L243.9 367.4 L245.4 367.8 L246.9 368.2 L248.4 368.7 L249.9 369.2 L251.4 369.7 L252.9 370.3 L254.4 370.8 L255.9 371.4 L257.4 372.1 L258.9 372.7 L260.4 373.4 L261.9 374.1 L263.4 374.9 L264.9 375.6 L266.4 376.4 L267.9 377.2 L269.4 378.0 L270.9 378.9 L272.4 379.8 L273.9 380.7 L275.4 381.6 L276.9 382.5 L278.4 383.5 L279.9 384.4 L281.4 385.4 L282.9 386.4 L284.4 387.5 L285.9 388.5 L287.4 389.6 L288.9 390.6 L290.4 391.7 L291.9 392.8 L293.4 393.9 L294.9 395.1 L296.4 396.2 L297.9 397.3 L299.4 398.5 L300.9 399.6 L302.4 400.8 L303.9 401.9 L305.4 403.1 L306.9 404.2 L308.4 405.4 L309.9 406.5 L311.4 407.7 L312.9 408.8 L314.4 409.9 L315.9 411.0 L317.4 412.2 L318.9 413.2 L320.4 414.3 L321.9 415.4 L323.4 416.4 L324.9 417.4 L326.4 418.5 L327.9 419.4 L329.4 420.4 L330.9 421.3 L332.4 422.2 L333.9 423.1 L335.4 424.0 L336.9 424.8 L338.4 425.6 L339.9 426.4 L341.4 427.1 L342.9 427.8 L344.4 428.4 L345.9 429.1 L347.4 429.6 L348.9 430.2 L350.4 430.7 L351.9 431.1 L353.4 431.5 L354.9 431.9 L356.4 432.2 L357.9 432.4 L359.4 432.6 L360.9 432.8 L362.4 432.9 L363.9 432.9 L365.1 432.9" fill="none" stroke="#ff3434" stroke-width="3.5" clip-path="url(#ca)"/>
<path d="M387.1 444.9 L388.6 444.9 L390.1 444.9 L391.6 444.9 L393.1 444.9 L394.6 444.9 L396.1 444.9 L397.6 444.9 L399.1 444.9 L400.6 444.9 L402.1 444.9 L403.6 444.9 L405.1 444.9 L406.6 444.9 L408.1 444.9 L409.6 444.9 L411.1 444.9 L412.6 444.9 L414.1 444.9 L415.6 444.9 L417.1 444.9 L418.6 444.9 L420.1 444.9 L421.6 444.9 L423.1 444.9 L424.6 444.9 L426.1 444.9 L427.6 444.9 L429.1 444.9 L430.6 444.9 L432.1 444.9 L433.6 444.9 L435.1 444.9 L436.6 444.9 L438.1 444.9 L439.6 444.9 L441.1 444.9 L442.6 444.9 L444.1 444.9 L445.6 444.9 L447.1 444.9 L448.6 444.9 L450.1 444.9 L451.6 444.9 L453.1 444.9 L454.6 444.9 L456.1 444.9 L457.6 444.9 L459.1 444.9 L460.6 444.9 L462.1 444.9 L463.6 444.9 L465.1 444.9 L466.6 444.9 L468.1 444.9 L469.6 444.9 L471.1 444.9 L472.6 444.9 L474.1 444.9 L475.6 444.9 L477.1 444.9 L478.6 444.9 L480.1 444.9 L481.6 444.9 L483.1 444.9 L484.6 444.9 L486.1 444.9 L487.6 444.9 L489.1 444.9 L490.6 444.9 L492.1 444.9 L493.6 444.9 L495.1 444.9 L496.6 444.9 L498.1 444.9 L499.6 444.9 L501.1 444.9 L502.6 444.9 L504.1 444.9 L505.6 444.9 L507.1 444.9 L508.6 444.9 L510.1 444.9 L511.6 444.9 L513.1 444.9 L514.6 444.9 L516.1 444.9 L517.6 444.9 L519.1 444.9 L520.6 444.9 L522.1 444.9 L523.6 444.9 L525.1 444.9 L526.6 444.9 L528.1 444.9 L529.6 444.9 L531.1 444.9 L532.6 444.9 L534.1 444.9 L535.6 444.9 L537.1 444.9 L538.6 444.9 L540.1 444.9 L541.6 444.9 L543.1 444.9 L544.6 444.9 L546.1 444.9 L547.6 444.9 L549.1 444.9 L550.6 444.9 L552.1 444.9 L553.6 444.9 L555.1 444.9 L556.6 444.9 L558.1 444.9 L559.6 444.9 L561.1 444.9 L562.6 444.9 L564.1 444.9 L565.6 444.9 L567.1 444.9 L568.6 444.9 L570.1 444.9 L571.6 444.9 L573.1 444.9 L574.6 444.9 L576.1 444.9 L577.6 444.9 L579.1 444.9 L580.6 444.9 L582.1 444.9 L583.6 444.9 L585.1 444.9 L586.6 444.9 L588.1 444.9 L589.6 444.9 L591.1 444.9 L592.6 444.9 L594.1 444.9 L595.6 444.9 L597.1 444.9 L598.6 444.9 L600.1 444.9 L601.6 444.9 L603.1 444.9 L604.6 444.9 L606.1 444.9 L607.6 444.9 L609.1 444.9 L610.6 444.9 L612.1 444.9 L613.6 444.9 L615.1 444.9 L616.6 444.9 L618.1 444.9 L619.6 444.9 L621.1 444.9 L622.6 444.9 L624.1 444.9 L625.6 444.9 L627.1 444.9 L628.6 444.9 L630.1 444.9 L631.6 444.9 L633.1 444.9 L634.6 444.9 L636.1 444.9 L637.6 444.9 L639.1 444.9 L640.6 444.9 L642.1 444.9 L643.6 444.9 L645.1 444.9 L646.6 444.9 L648.1 444.9 L649.6 444.9 L651.1 444.9 L652.6 444.9 L654.1 444.9 L655.6 444.9 L657.1 444.9 L658.6 444.9 L660.1 444.9 L661.6 444.9 L663.1 444.9 L664.6 444.9 L666.1 444.9 L667.6 444.9 L669.1 444.9 L670.6 444.9 L672.1 444.9 L673.6 444.9 L675.1 444.9 L676.6 444.9 L678.1 444.9 L679.6 444.9 L680.8 444.9" fill="none" stroke="#3bb696" stroke-width="3.5" stroke-dasharray="3.3 2.55" clip-path="url(#cb)"/>
<path d="M387.1 439.2 L388.6 439.1 L390.1 439.1 L391.6 439.1 L393.1 439.1 L394.6 439.0 L396.1 439.0 L397.6 439.0 L399.1 439.0 L400.6 438.9 L402.1 438.9 L403.6 438.9 L405.1 438.9 L406.6 438.9 L408.1 438.9 L409.6 438.9 L411.1 438.8 L412.6 438.8 L414.1 438.8 L415.6 438.8 L417.1 438.8 L418.6 438.8 L420.1 438.8 L421.6 438.8 L423.1 438.8 L424.6 438.8 L426.1 438.8 L427.6 438.8 L429.1 438.8 L430.6 438.9 L432.1 438.9 L433.6 438.9 L435.1 438.9 L436.6 438.9 L438.1 438.9 L439.6 438.9 L441.1 438.9 L442.6 439.0 L444.1 439.0 L445.6 439.0 L447.1 439.0 L448.6 439.1 L450.1 439.1 L451.6 439.1 L453.1 439.1 L454.6 439.2 L456.1 439.2 L457.6 439.2 L459.1 439.2 L460.6 439.3 L462.1 439.3 L463.6 439.3 L465.1 439.4 L466.6 439.4 L468.1 439.4 L469.6 439.5 L471.1 439.5 L472.6 439.5 L474.1 439.6 L475.6 439.6 L477.1 439.7 L478.6 439.7 L480.1 439.7 L481.6 439.8 L483.1 439.8 L484.6 439.9 L486.1 439.9 L487.6 440.0 L489.1 440.0 L490.6 440.1 L492.1 440.1 L493.6 440.1 L495.1 440.2 L496.6 440.2 L498.1 440.3 L499.6 440.3 L501.1 440.4 L502.6 440.4 L504.1 440.5 L505.6 440.5 L507.1 440.6 L508.6 440.6 L510.1 440.7 L511.6 440.7 L513.1 440.8 L514.6 440.9 L516.1 440.9 L517.6 441.0 L519.1 441.0 L520.6 441.1 L522.1 441.1 L523.6 441.2 L525.1 441.2 L526.6 441.3 L528.1 441.3 L529.6 441.4 L531.1 441.5 L532.6 441.5 L534.1 441.6 L535.6 441.6 L537.1 441.7 L538.6 441.7 L540.1 441.8 L541.6 441.8 L543.1 441.9 L544.6 442.0 L546.1 442.0 L547.6 442.1 L549.1 442.1 L550.6 442.2 L552.1 442.2 L553.6 442.3 L555.1 442.3 L556.6 442.4 L558.1 442.5 L559.6 442.5 L561.1 442.6 L562.6 442.6 L564.1 442.7 L565.6 442.7 L567.1 442.8 L568.6 442.8 L570.1 442.9 L571.6 442.9 L573.1 443.0 L574.6 443.0 L576.1 443.1 L577.6 443.2 L579.1 443.2 L580.6 443.3 L582.1 443.3 L583.6 443.4 L585.1 443.4 L586.6 443.5 L588.1 443.5 L589.6 443.6 L591.1 443.6 L592.6 443.6 L594.1 443.7 L595.6 443.7 L597.1 443.8 L598.6 443.8 L600.1 443.9 L601.6 443.9 L603.1 444.0 L604.6 444.0 L606.1 444.0 L607.6 444.1 L609.1 444.1 L610.6 444.2 L612.1 444.2 L613.6 444.2 L615.1 444.3 L616.6 444.3 L618.1 444.3 L619.6 444.4 L621.1 444.4 L622.6 444.4 L624.1 444.5 L625.6 444.5 L627.1 444.5 L628.6 444.6 L630.1 444.6 L631.6 444.6 L633.1 444.6 L634.6 444.7 L636.1 444.7 L637.6 444.7 L639.1 444.7 L640.6 444.8 L642.1 444.8 L643.6 444.8 L645.1 444.8 L646.6 444.8 L648.1 444.9 L649.6 444.9 L651.1 444.9 L652.6 444.9 L654.1 444.9 L655.6 444.9 L657.1 444.9 L658.6 444.9 L660.1 444.9 L661.6 444.9 L663.1 444.9 L664.6 444.9 L666.1 444.9 L667.6 444.9 L669.1 444.9 L670.6 444.9 L672.1 444.9 L673.6 444.9 L675.1 444.9 L676.6 444.9 L678.1 444.9 L679.6 444.9 L680.8 444.9" fill="none" stroke="#3bb696" stroke-width="3.5" stroke-dasharray="8.2 5.3" clip-path="url(#cb)"/>
<path d="M387.1 420.6 L388.6 420.5 L390.1 420.4 L391.6 420.3 L393.1 420.3 L394.6 420.2 L396.1 420.1 L397.6 420.1 L399.1 420.0 L400.6 420.0 L402.1 419.9 L403.6 419.9 L405.1 419.8 L406.6 419.8 L408.1 419.8 L409.6 419.7 L411.1 419.7 L412.6 419.7 L414.1 419.7 L415.6 419.7 L417.1 419.7 L418.6 419.7 L420.1 419.7 L421.6 419.7 L423.1 419.8 L424.6 419.8 L426.1 419.8 L427.6 419.8 L429.1 419.9 L430.6 419.9 L432.1 419.9 L433.6 420.0 L435.1 420.0 L436.6 420.1 L438.1 420.2 L439.6 420.2 L441.1 420.3 L442.6 420.4 L444.1 420.4 L445.6 420.5 L447.1 420.6 L448.6 420.7 L450.1 420.7 L451.6 420.8 L453.1 420.9 L454.6 421.0 L456.1 421.1 L457.6 421.2 L459.1 421.3 L460.6 421.4 L462.1 421.6 L463.6 421.7 L465.1 421.8 L466.6 421.9 L468.1 422.0 L469.6 422.2 L471.1 422.3 L472.6 422.4 L474.1 422.6 L475.6 422.7 L477.1 422.8 L478.6 423.0 L480.1 423.1 L481.6 423.3 L483.1 423.4 L484.6 423.6 L486.1 423.7 L487.6 423.9 L489.1 424.0 L490.6 424.2 L492.1 424.4 L493.6 424.5 L495.1 424.7 L496.6 424.8 L498.1 425.0 L499.6 425.2 L501.1 425.4 L502.6 425.5 L504.1 425.7 L505.6 425.9 L507.1 426.1 L508.6 426.2 L510.1 426.4 L511.6 426.6 L513.1 426.8 L514.6 427.0 L516.1 427.2 L517.6 427.3 L519.1 427.5 L520.6 427.7 L522.1 427.9 L523.6 428.1 L525.1 428.3 L526.6 428.5 L528.1 428.7 L529.6 428.9 L531.1 429.1 L532.6 429.3 L534.1 429.5 L535.6 429.7 L537.1 429.9 L538.6 430.1 L540.1 430.3 L541.6 430.5 L543.1 430.7 L544.6 430.9 L546.1 431.1 L547.6 431.3 L549.1 431.5 L550.6 431.7 L552.1 431.9 L553.6 432.0 L555.1 432.2 L556.6 432.4 L558.1 432.6 L559.6 432.8 L561.1 433.0 L562.6 433.2 L564.1 433.4 L565.6 433.6 L567.1 433.8 L568.6 434.0 L570.1 434.2 L571.6 434.4 L573.1 434.6 L574.6 434.8 L576.1 435.0 L577.6 435.2 L579.1 435.4 L580.6 435.6 L582.1 435.7 L583.6 435.9 L585.1 436.1 L586.6 436.3 L588.1 436.5 L589.6 436.7 L591.1 436.8 L592.6 437.0 L594.1 437.2 L595.6 437.4 L597.1 437.6 L598.6 437.7 L600.1 437.9 L601.6 438.1 L603.1 438.2 L604.6 438.4 L606.1 438.6 L607.6 438.7 L609.1 438.9 L610.6 439.0 L612.1 439.2 L613.6 439.3 L615.1 439.5 L616.6 439.7 L618.1 439.8 L619.6 439.9 L621.1 440.1 L622.6 440.2 L624.1 440.4 L625.6 440.5 L627.1 440.6 L628.6 440.8 L630.1 440.9 L631.6 441.0 L633.1 441.1 L634.6 441.3 L636.1 441.4 L637.6 441.5 L639.1 441.6 L640.6 441.7 L642.1 441.8 L643.6 441.9 L645.1 442.0 L646.6 442.1 L648.1 442.2 L649.6 442.3 L651.1 442.4 L652.6 442.4 L654.1 442.5 L655.6 442.6 L657.1 442.7 L658.6 442.7 L660.1 442.8 L661.6 442.8 L663.1 442.9 L664.6 443.0 L666.1 443.0 L667.6 443.0 L669.1 443.1 L670.6 443.1 L672.1 443.1 L673.6 443.2 L675.1 443.2 L676.6 443.2 L678.1 443.2 L679.6 443.2 L680.8 443.2" fill="none" stroke="#3bb696" stroke-width="3.5" clip-path="url(#cb)"/>
<path d="M387.1 76.4 L388.6 76.6 L390.1 76.9 L391.6 77.2 L393.1 77.5 L394.6 77.8 L396.1 78.2 L397.6 78.5 L399.1 78.9 L400.6 79.4 L402.1 79.8 L403.6 80.3 L405.1 80.8 L406.6 81.3 L408.1 81.8 L409.6 82.4 L411.1 83.0 L412.6 83.6 L414.1 84.2 L415.6 84.8 L417.1 85.4 L418.6 86.1 L420.1 86.8 L421.6 87.5 L423.1 88.2 L424.6 88.9 L426.1 89.6 L427.6 90.3 L429.1 91.1 L430.6 91.8 L432.1 92.6 L433.6 93.4 L435.1 94.2 L436.6 95.0 L438.1 95.8 L439.6 96.6 L441.1 97.4 L442.6 98.2 L444.1 99.0 L445.6 99.9 L447.1 100.7 L448.6 101.6 L450.1 102.4 L451.6 103.3 L453.1 104.2 L454.6 105.2 L456.1 106.1 L457.6 107.1 L459.1 108.1 L460.6 109.2 L462.1 110.3 L463.6 111.4 L465.1 112.6 L466.6 113.9 L468.1 115.2 L469.6 116.5 L471.1 117.9 L472.6 119.4 L474.1 120.9 L475.6 122.5 L477.1 124.1 L478.6 125.8 L480.1 127.6 L481.6 129.5 L483.1 131.4 L484.6 133.4 L486.1 135.4 L487.6 137.5 L489.1 139.7 L490.6 141.9 L492.1 144.2 L493.6 146.5 L495.1 148.9 L496.6 151.4 L498.1 153.9 L499.6 156.4 L501.1 159.0 L502.6 161.7 L504.1 164.4 L505.6 167.2 L507.1 170.0 L508.6 172.9 L510.1 175.8 L511.6 178.7 L513.1 181.7 L514.6 184.8 L516.1 187.9 L517.6 191.0 L519.1 194.2 L520.6 197.4 L522.1 200.6 L523.6 203.9 L525.1 207.3 L526.6 210.6 L528.1 214.1 L529.6 217.6 L531.1 221.1 L532.6 224.7 L534.1 228.4 L535.6 232.1 L537.1 235.9 L538.6 239.7 L540.1 243.6 L541.6 247.5 L543.1 251.5 L544.6 255.5 L546.1 259.6 L547.6 263.7 L549.1 267.8 L550.6 271.9 L552.1 276.1 L553.6 280.2 L555.1 284.3 L556.6 288.4 L558.1 292.4 L559.6 296.4 L561.1 300.3 L562.6 304.2 L564.1 308.0 L565.6 311.8 L567.1 315.5 L568.6 319.1 L570.1 322.7 L571.6 326.3 L573.1 329.7 L574.6 333.2 L576.1 336.5 L577.6 339.8 L579.1 343.1 L580.6 346.3 L582.1 349.4 L583.6 352.5 L585.1 355.6 L586.6 358.6 L588.1 361.5 L589.6 364.5 L591.1 367.3 L592.6 370.1 L594.1 372.9 L595.6 375.6 L597.1 378.2 L598.6 380.8 L600.1 383.3 L601.6 385.8 L603.1 388.2 L604.6 390.6 L606.1 392.9 L607.6 395.1 L609.1 397.2 L610.6 399.3 L612.1 401.3 L613.6 403.2 L615.1 405.1 L616.6 406.9 L618.1 408.6 L619.6 410.3 L621.1 411.9 L622.6 413.4 L624.1 414.9 L625.6 416.3 L627.1 417.6 L628.6 418.9 L630.1 420.1 L631.6 421.3 L633.1 422.4 L634.6 423.5 L636.1 424.5 L637.6 425.4 L639.1 426.4 L640.6 427.2 L642.1 428.1 L643.6 428.8 L645.1 429.6 L646.6 430.3 L648.1 431.0 L649.6 431.6 L651.1 432.2 L652.6 432.7 L654.1 433.3 L655.6 433.8 L657.1 434.2 L658.6 434.7 L660.1 435.1 L661.6 435.5 L663.1 435.8 L664.6 436.2 L666.1 436.5 L667.6 436.8 L669.1 437.1 L670.6 437.4 L672.1 437.6 L673.6 437.9 L675.1 438.1 L676.6 438.3 L678.1 438.5 L679.6 438.8 L680.8 438.9" fill="none" stroke="#2f86fd" stroke-width="3.5" stroke-dasharray="3.3 2.55" clip-path="url(#cb)"/>
<path d="M387.1 109.2 L388.6 109.4 L390.1 109.6 L391.6 109.8 L393.1 110.0 L394.6 110.2 L396.1 110.4 L397.6 110.6 L399.1 110.8 L400.6 111.1 L402.1 111.3 L403.6 111.6 L405.1 111.8 L406.6 112.1 L408.1 112.4 L409.6 112.7 L411.1 112.9 L412.6 113.3 L414.1 113.6 L415.6 113.9 L417.1 114.3 L418.6 114.6 L420.1 115.0 L421.6 115.4 L423.1 115.8 L424.6 116.3 L426.1 116.7 L427.6 117.2 L429.1 117.7 L430.6 118.2 L432.1 118.7 L433.6 119.3 L435.1 119.8 L436.6 120.4 L438.1 121.1 L439.6 121.7 L441.1 122.4 L442.6 123.1 L444.1 123.8 L445.6 124.5 L447.1 125.3 L448.6 126.1 L450.1 127.0 L451.6 127.9 L453.1 128.8 L454.6 129.7 L456.1 130.8 L457.6 131.8 L459.1 132.9 L460.6 134.1 L462.1 135.3 L463.6 136.5 L465.1 137.8 L466.6 139.2 L468.1 140.6 L469.6 142.0 L471.1 143.5 L472.6 145.0 L474.1 146.5 L475.6 148.1 L477.1 149.7 L478.6 151.4 L480.1 153.1 L481.6 154.8 L483.1 156.6 L484.6 158.4 L486.1 160.2 L487.6 162.1 L489.1 164.1 L490.6 166.0 L492.1 168.0 L493.6 170.1 L495.1 172.2 L496.6 174.3 L498.1 176.5 L499.6 178.7 L501.1 181.0 L502.6 183.3 L504.1 185.7 L505.6 188.1 L507.1 190.6 L508.6 193.2 L510.1 195.8 L511.6 198.4 L513.1 201.1 L514.6 203.9 L516.1 206.7 L517.6 209.5 L519.1 212.4 L520.6 215.3 L522.1 218.2 L523.6 221.2 L525.1 224.3 L526.6 227.3 L528.1 230.4 L529.6 233.5 L531.1 236.7 L532.6 239.9 L534.1 243.1 L535.6 246.3 L537.1 249.5 L538.6 252.8 L540.1 256.1 L541.6 259.4 L543.1 262.7 L544.6 266.0 L546.1 269.3 L547.6 272.7 L549.1 276.0 L550.6 279.4 L552.1 282.7 L553.6 286.1 L555.1 289.5 L556.6 292.8 L558.1 296.2 L559.6 299.6 L561.1 303.0 L562.6 306.3 L564.1 309.7 L565.6 313.1 L567.1 316.4 L568.6 319.7 L570.1 323.1 L571.6 326.4 L573.1 329.7 L574.6 332.9 L576.1 336.2 L577.6 339.4 L579.1 342.6 L580.6 345.8 L582.1 348.9 L583.6 352.0 L585.1 355.0 L586.6 358.1 L588.1 361.1 L589.6 364.0 L591.1 366.9 L592.6 369.7 L594.1 372.5 L595.6 375.3 L597.1 378.0 L598.6 380.6 L600.1 383.2 L601.6 385.7 L603.1 388.2 L604.6 390.6 L606.1 392.9 L607.6 395.2 L609.1 397.4 L610.6 399.5 L612.1 401.5 L613.6 403.5 L615.1 405.4 L616.6 407.2 L618.1 408.9 L619.6 410.6 L621.1 412.2 L622.6 413.7 L624.1 415.1 L625.6 416.5 L627.1 417.9 L628.6 419.1 L630.1 420.3 L631.6 421.5 L633.1 422.6 L634.6 423.6 L636.1 424.6 L637.6 425.6 L639.1 426.5 L640.6 427.3 L642.1 428.1 L643.6 428.9 L645.1 429.6 L646.6 430.3 L648.1 430.9 L649.6 431.5 L651.1 432.1 L652.6 432.6 L654.1 433.1 L655.6 433.6 L657.1 434.1 L658.6 434.5 L660.1 434.9 L661.6 435.3 L663.1 435.6 L664.6 436.0 L666.1 436.3 L667.6 436.6 L669.1 436.9 L670.6 437.2 L672.1 437.5 L673.6 437.8 L675.1 438.1 L676.6 438.4 L678.1 438.6 L679.6 438.9 L680.8 439.1" fill="none" stroke="#2f86fd" stroke-width="3.5" stroke-dasharray="8.2 5.3" clip-path="url(#cb)"/>
<path d="M387.1 219.9 L388.6 219.8 L390.1 219.7 L391.6 219.7 L393.1 219.7 L394.6 219.7 L396.1 219.7 L397.6 219.8 L399.1 219.9 L400.6 220.0 L402.1 220.1 L403.6 220.3 L405.1 220.5 L406.6 220.7 L408.1 220.9 L409.6 221.1 L411.1 221.4 L412.6 221.7 L414.1 222.0 L415.6 222.3 L417.1 222.6 L418.6 222.9 L420.1 223.3 L421.6 223.7 L423.1 224.0 L424.6 224.4 L426.1 224.9 L427.6 225.3 L429.1 225.7 L430.6 226.2 L432.1 226.6 L433.6 227.1 L435.1 227.5 L436.6 228.0 L438.1 228.5 L439.6 229.0 L441.1 229.5 L442.6 230.0 L444.1 230.5 L445.6 231.1 L447.1 231.6 L448.6 232.1 L450.1 232.7 L451.6 233.2 L453.1 233.7 L454.6 234.3 L456.1 234.8 L457.6 235.3 L459.1 235.9 L460.6 236.4 L462.1 236.9 L463.6 237.5 L465.1 238.0 L466.6 238.5 L468.1 239.1 L469.6 239.6 L471.1 240.2 L472.6 240.8 L474.1 241.3 L475.6 241.9 L477.1 242.6 L478.6 243.2 L480.1 243.9 L481.6 244.5 L483.1 245.3 L484.6 246.0 L486.1 246.8 L487.6 247.6 L489.1 248.4 L490.6 249.3 L492.1 250.3 L493.6 251.2 L495.1 252.3 L496.6 253.3 L498.1 254.5 L499.6 255.6 L501.1 256.9 L502.6 258.2 L504.1 259.5 L505.6 260.9 L507.1 262.3 L508.6 263.8 L510.1 265.3 L511.6 266.8 L513.1 268.4 L514.6 270.0 L516.1 271.7 L517.6 273.3 L519.1 275.0 L520.6 276.7 L522.1 278.4 L523.6 280.2 L525.1 281.9 L526.6 283.7 L528.1 285.5 L529.6 287.3 L531.1 289.2 L532.6 291.1 L534.1 293.0 L535.6 294.9 L537.1 296.9 L538.6 298.8 L540.1 300.9 L541.6 302.9 L543.1 305.0 L544.6 307.1 L546.1 309.3 L547.6 311.5 L549.1 313.7 L550.6 316.0 L552.1 318.3 L553.6 320.6 L555.1 323.0 L556.6 325.5 L558.1 327.9 L559.6 330.4 L561.1 333.0 L562.6 335.5 L564.1 338.1 L565.6 340.6 L567.1 343.2 L568.6 345.8 L570.1 348.3 L571.6 350.8 L573.1 353.3 L574.6 355.8 L576.1 358.2 L577.6 360.6 L579.1 363.0 L580.6 365.3 L582.1 367.6 L583.6 369.9 L585.1 372.1 L586.6 374.3 L588.1 376.4 L589.6 378.6 L591.1 380.7 L592.6 382.7 L594.1 384.8 L595.6 386.8 L597.1 388.8 L598.6 390.8 L600.1 392.7 L601.6 394.6 L603.1 396.5 L604.6 398.3 L606.1 400.0 L607.6 401.7 L609.1 403.4 L610.6 405.0 L612.1 406.5 L613.6 408.1 L615.1 409.5 L616.6 410.9 L618.1 412.3 L619.6 413.7 L621.1 414.9 L622.6 416.2 L624.1 417.4 L625.6 418.5 L627.1 419.7 L628.6 420.7 L630.1 421.8 L631.6 422.8 L633.1 423.7 L634.6 424.6 L636.1 425.5 L637.6 426.3 L639.1 427.2 L640.6 427.9 L642.1 428.7 L643.6 429.4 L645.1 430.1 L646.6 430.7 L648.1 431.3 L649.6 431.9 L651.1 432.5 L652.6 433.0 L654.1 433.5 L655.6 434.0 L657.1 434.5 L658.6 434.9 L660.1 435.3 L661.6 435.7 L663.1 436.1 L664.6 436.5 L666.1 436.8 L667.6 437.1 L669.1 437.4 L670.6 437.7 L672.1 438.0 L673.6 438.2 L675.1 438.5 L676.6 438.7 L678.1 438.9 L679.6 439.1 L680.8 439.3" fill="none" stroke="#2f86fd" stroke-width="3.5" clip-path="url(#cb)"/>
<path d="M387.1 436.8 L388.6 436.5 L390.1 436.2 L391.6 435.9 L393.1 435.6 L394.6 435.3 L396.1 435.0 L397.6 434.7 L399.1 434.3 L400.6 434.0 L402.1 433.6 L403.6 433.2 L405.1 432.8 L406.6 432.4 L408.1 432.0 L409.6 431.6 L411.1 431.2 L412.6 430.7 L414.1 430.2 L415.6 429.7 L417.1 429.2 L418.6 428.7 L420.1 428.2 L421.6 427.7 L423.1 427.1 L424.6 426.5 L426.1 425.9 L427.6 425.3 L429.1 424.7 L430.6 424.1 L432.1 423.4 L433.6 422.8 L435.1 422.1 L436.6 421.4 L438.1 420.6 L439.6 419.9 L441.1 419.1 L442.6 418.4 L444.1 417.6 L445.6 416.7 L447.1 415.9 L448.6 415.1 L450.1 414.2 L451.6 413.3 L453.1 412.4 L454.6 411.4 L456.1 410.5 L457.6 409.5 L459.1 408.5 L460.6 407.5 L462.1 406.5 L463.6 405.4 L465.1 404.3 L466.6 403.2 L468.1 402.1 L469.6 401.0 L471.1 399.8 L472.6 398.6 L474.1 397.4 L475.6 396.2 L477.1 394.9 L478.6 393.6 L480.1 392.3 L481.6 391.0 L483.1 389.6 L484.6 388.2 L486.1 386.8 L487.6 385.4 L489.1 383.9 L490.6 382.4 L492.1 380.8 L493.6 379.3 L495.1 377.7 L496.6 376.0 L498.1 374.4 L499.6 372.6 L501.1 370.9 L502.6 369.2 L504.1 367.4 L505.6 365.6 L507.1 363.9 L508.6 362.1 L510.1 360.4 L511.6 358.6 L513.1 356.9 L514.6 355.3 L516.1 353.7 L517.6 352.1 L519.1 350.5 L520.6 349.1 L522.1 347.7 L523.6 346.3 L525.1 345.0 L526.6 343.8 L528.1 342.6 L529.6 341.5 L531.1 340.5 L532.6 339.6 L534.1 338.7 L535.6 337.9 L537.1 337.1 L538.6 336.4 L540.1 335.8 L541.6 335.3 L543.1 334.9 L544.6 334.5 L546.1 334.2 L547.6 334.0 L549.1 333.9 L550.6 333.8 L552.1 333.8 L553.6 334.0 L555.1 334.2 L556.6 334.4 L558.1 334.8 L559.6 335.3 L561.1 335.8 L562.6 336.5 L564.1 337.2 L565.6 338.0 L567.1 338.9 L568.6 339.9 L570.1 341.0 L571.6 342.2 L573.1 343.5 L574.6 344.9 L576.1 346.3 L577.6 347.7 L579.1 349.3 L580.6 350.8 L582.1 352.4 L583.6 354.0 L585.1 355.7 L586.6 357.3 L588.1 359.0 L589.6 360.7 L591.1 362.4 L592.6 364.1 L594.1 365.9 L595.6 367.6 L597.1 369.4 L598.6 371.2 L600.1 373.0 L601.6 374.8 L603.1 376.6 L604.6 378.4 L606.1 380.3 L607.6 382.1 L609.1 383.9 L610.6 385.7 L612.1 387.6 L613.6 389.4 L615.1 391.1 L616.6 392.9 L618.1 394.7 L619.6 396.4 L621.1 398.1 L622.6 399.8 L624.1 401.5 L625.6 403.1 L627.1 404.7 L628.6 406.2 L630.1 407.7 L631.6 409.2 L633.1 410.6 L634.6 412.0 L636.1 413.4 L637.6 414.7 L639.1 416.0 L640.6 417.2 L642.1 418.4 L643.6 419.5 L645.1 420.6 L646.6 421.7 L648.1 422.7 L649.6 423.7 L651.1 424.6 L652.6 425.5 L654.1 426.4 L655.6 427.2 L657.1 428.0 L658.6 428.7 L660.1 429.4 L661.6 430.0 L663.1 430.6 L664.6 431.2 L666.1 431.7 L667.6 432.2 L669.1 432.6 L670.6 433.0 L672.1 433.4 L673.6 433.7 L675.1 433.9 L676.6 434.2 L678.1 434.4 L679.6 434.5 L680.8 434.6" fill="none" stroke="#ff3434" stroke-width="3.5" stroke-dasharray="3.3 2.55" clip-path="url(#cb)"/>
<path d="M387.1 411.9 L388.6 411.7 L390.1 411.6 L391.6 411.4 L393.1 411.3 L394.6 411.1 L396.1 410.9 L397.6 410.7 L399.1 410.5 L400.6 410.2 L402.1 410.0 L403.6 409.8 L405.1 409.5 L406.6 409.2 L408.1 409.0 L409.6 408.7 L411.1 408.4 L412.6 408.0 L414.1 407.7 L415.6 407.4 L417.1 407.0 L418.6 406.6 L420.1 406.2 L421.6 405.8 L423.1 405.4 L424.6 405.0 L426.1 404.6 L427.6 404.1 L429.1 403.6 L430.6 403.1 L432.1 402.6 L433.6 402.1 L435.1 401.6 L436.6 401.0 L438.1 400.5 L439.6 399.9 L441.1 399.3 L442.6 398.7 L444.1 398.1 L445.6 397.4 L447.1 396.8 L448.6 396.1 L450.1 395.4 L451.6 394.7 L453.1 394.0 L454.6 393.2 L456.1 392.4 L457.6 391.7 L459.1 390.9 L460.6 390.0 L462.1 389.2 L463.6 388.3 L465.1 387.5 L466.6 386.6 L468.1 385.7 L469.6 384.7 L471.1 383.8 L472.6 382.8 L474.1 381.8 L475.6 380.8 L477.1 379.8 L478.6 378.7 L480.1 377.6 L481.6 376.5 L483.1 375.4 L484.6 374.3 L486.1 373.1 L487.6 371.9 L489.1 370.7 L490.6 369.5 L492.1 368.3 L493.6 367.0 L495.1 365.7 L496.6 364.4 L498.1 363.2 L499.6 361.9 L501.1 360.6 L502.6 359.3 L504.1 358.0 L505.6 356.7 L507.1 355.4 L508.6 354.1 L510.1 352.8 L511.6 351.6 L513.1 350.4 L514.6 349.2 L516.1 348.0 L517.6 346.8 L519.1 345.7 L520.6 344.6 L522.1 343.5 L523.6 342.5 L525.1 341.5 L526.6 340.5 L528.1 339.6 L529.6 338.7 L531.1 337.9 L532.6 337.2 L534.1 336.5 L535.6 335.8 L537.1 335.2 L538.6 334.7 L540.1 334.2 L541.6 333.8 L543.1 333.5 L544.6 333.2 L546.1 333.0 L547.6 332.9 L549.1 332.9 L550.6 333.0 L552.1 333.1 L553.6 333.4 L555.1 333.7 L556.6 334.1 L558.1 334.6 L559.6 335.2 L561.1 335.9 L562.6 336.6 L564.1 337.5 L565.6 338.4 L567.1 339.4 L568.6 340.4 L570.1 341.5 L571.6 342.7 L573.1 343.9 L574.6 345.2 L576.1 346.6 L577.6 348.0 L579.1 349.5 L580.6 351.0 L582.1 352.5 L583.6 354.1 L585.1 355.7 L586.6 357.3 L588.1 359.0 L589.6 360.7 L591.1 362.4 L592.6 364.1 L594.1 365.8 L595.6 367.6 L597.1 369.3 L598.6 371.1 L600.1 372.9 L601.6 374.7 L603.1 376.5 L604.6 378.3 L606.1 380.1 L607.6 382.0 L609.1 383.8 L610.6 385.6 L612.1 387.4 L613.6 389.2 L615.1 391.0 L616.6 392.8 L618.1 394.6 L619.6 396.3 L621.1 398.1 L622.6 399.8 L624.1 401.4 L625.6 403.1 L627.1 404.7 L628.6 406.2 L630.1 407.8 L631.6 409.2 L633.1 410.7 L634.6 412.1 L636.1 413.4 L637.6 414.7 L639.1 416.0 L640.6 417.2 L642.1 418.4 L643.6 419.6 L645.1 420.7 L646.6 421.7 L648.1 422.7 L649.6 423.7 L651.1 424.6 L652.6 425.5 L654.1 426.4 L655.6 427.2 L657.1 428.0 L658.6 428.7 L660.1 429.4 L661.6 430.0 L663.1 430.6 L664.6 431.2 L666.1 431.7 L667.6 432.2 L669.1 432.6 L670.6 433.0 L672.1 433.3 L673.6 433.7 L675.1 433.9 L676.6 434.2 L678.1 434.3 L679.6 434.5 L680.8 434.6" fill="none" stroke="#ff3434" stroke-width="3.5" stroke-dasharray="8.2 5.3" clip-path="url(#cb)"/>
<path d="M387.1 355.5 L388.6 355.4 L390.1 355.2 L391.6 355.1 L393.1 355.0 L394.6 354.9 L396.1 354.7 L397.6 354.6 L399.1 354.5 L400.6 354.4 L402.1 354.3 L403.6 354.2 L405.1 354.0 L406.6 353.9 L408.1 353.8 L409.6 353.7 L411.1 353.6 L412.6 353.5 L414.1 353.4 L415.6 353.3 L417.1 353.2 L418.6 353.0 L420.1 352.9 L421.6 352.8 L423.1 352.7 L424.6 352.6 L426.1 352.5 L427.6 352.4 L429.1 352.2 L430.6 352.1 L432.1 352.0 L433.6 351.9 L435.1 351.7 L436.6 351.6 L438.1 351.5 L439.6 351.4 L441.1 351.2 L442.6 351.1 L444.1 350.9 L445.6 350.8 L447.1 350.6 L448.6 350.5 L450.1 350.3 L451.6 350.1 L453.1 350.0 L454.6 349.8 L456.1 349.6 L457.6 349.5 L459.1 349.3 L460.6 349.1 L462.1 348.9 L463.6 348.7 L465.1 348.5 L466.6 348.2 L468.1 348.0 L469.6 347.8 L471.1 347.6 L472.6 347.3 L474.1 347.1 L475.6 346.8 L477.1 346.6 L478.6 346.3 L480.1 346.0 L481.6 345.7 L483.1 345.5 L484.6 345.2 L486.1 344.9 L487.6 344.6 L489.1 344.3 L490.6 344.0 L492.1 343.7 L493.6 343.4 L495.1 343.1 L496.6 342.8 L498.1 342.5 L499.6 342.2 L501.1 341.9 L502.6 341.6 L504.1 341.3 L505.6 341.1 L507.1 340.8 L508.6 340.6 L510.1 340.4 L511.6 340.2 L513.1 340.0 L514.6 339.8 L516.1 339.6 L517.6 339.5 L519.1 339.3 L520.6 339.2 L522.1 339.2 L523.6 339.1 L525.1 339.0 L526.6 339.0 L528.1 339.0 L529.6 339.1 L531.1 339.1 L532.6 339.2 L534.1 339.3 L535.6 339.5 L537.1 339.6 L538.6 339.8 L540.1 340.1 L541.6 340.4 L543.1 340.7 L544.6 341.0 L546.1 341.4 L547.6 341.8 L549.1 342.3 L550.6 342.8 L552.1 343.4 L553.6 344.0 L555.1 344.6 L556.6 345.3 L558.1 346.1 L559.6 346.8 L561.1 347.7 L562.6 348.6 L564.1 349.5 L565.6 350.5 L567.1 351.5 L568.6 352.6 L570.1 353.8 L571.6 354.9 L573.1 356.1 L574.6 357.3 L576.1 358.6 L577.6 359.9 L579.1 361.2 L580.6 362.5 L582.1 363.9 L583.6 365.2 L585.1 366.6 L586.6 368.0 L588.1 369.4 L589.6 370.9 L591.1 372.3 L592.6 373.7 L594.1 375.2 L595.6 376.7 L597.1 378.1 L598.6 379.6 L600.1 381.1 L601.6 382.6 L603.1 384.0 L604.6 385.5 L606.1 387.0 L607.6 388.5 L609.1 390.0 L610.6 391.4 L612.1 392.9 L613.6 394.3 L615.1 395.8 L616.6 397.2 L618.1 398.7 L619.6 400.1 L621.1 401.5 L622.6 402.9 L624.1 404.3 L625.6 405.6 L627.1 407.0 L628.6 408.3 L630.1 409.6 L631.6 410.9 L633.1 412.2 L634.6 413.4 L636.1 414.7 L637.6 415.9 L639.1 417.0 L640.6 418.2 L642.1 419.3 L643.6 420.4 L645.1 421.4 L646.6 422.4 L648.1 423.4 L649.6 424.4 L651.1 425.3 L652.6 426.2 L654.1 427.0 L655.6 427.8 L657.1 428.6 L658.6 429.3 L660.1 430.0 L661.6 430.6 L663.1 431.2 L664.6 431.8 L666.1 432.3 L667.6 432.7 L669.1 433.1 L670.6 433.5 L672.1 433.8 L673.6 434.0 L675.1 434.2 L676.6 434.4 L678.1 434.5 L679.6 434.5 L680.8 434.5" fill="none" stroke="#ff3434" stroke-width="3.5" clip-path="url(#cb)"/>
<line x1="68.0" y1="264.8" x2="368.0" y2="264.8" stroke="#969696" stroke-width="1.8" stroke-dasharray="8 5.5" stroke-dashoffset="-6.8"/>
<line x1="383.7" y1="264.8" x2="683.4" y2="264.8" stroke="#969696" stroke-width="1.8" stroke-dasharray="8 5.5" stroke-dashoffset="-6.8"/>
<circle cx="169.3" cy="168.2" r="7.4" fill="#2f86fd"/>
<circle cx="485.0" cy="133.9" r="7.4" fill="#2f86fd"/>
<circle cx="169.3" cy="231.2" r="7.4" fill="#2f86fd"/>
<circle cx="485.0" cy="158.9" r="7.4" fill="#2f86fd"/>
<circle cx="169.3" cy="309.6" r="7.4" fill="#2f86fd"/>
<circle cx="485.0" cy="246.2" r="7.4" fill="#2f86fd"/>
<rect x="213.9" y="78.4" width="146.6" height="114.79999999999998" fill="#f1f1f1"/>
<line x1="213.9" y1="164.5" x2="360.5" y2="164.5" stroke="#dcdcdc" stroke-width="0.9" stroke-dasharray="6 5"/>
<line x1="213.9" y1="135.8" x2="360.5" y2="135.8" stroke="#dcdcdc" stroke-width="0.9" stroke-dasharray="6 5"/>
<line x1="213.9" y1="107.1" x2="360.5" y2="107.1" stroke="#dcdcdc" stroke-width="0.9" stroke-dasharray="6 5"/>
<line x1="250.6" y1="78.4" x2="250.6" y2="193.2" stroke="#dcdcdc" stroke-width="0.9" stroke-dasharray="6 5"/>
<line x1="287.2" y1="78.4" x2="287.2" y2="193.2" stroke="#dcdcdc" stroke-width="0.9" stroke-dasharray="6 5"/>
<line x1="323.9" y1="78.4" x2="323.9" y2="193.2" stroke="#dcdcdc" stroke-width="0.9" stroke-dasharray="6 5"/>
<line x1="213.9" y1="164.5" x2="224.9" y2="164.5" stroke="#888" stroke-width="1"/>
<line x1="349.5" y1="164.5" x2="360.5" y2="164.5" stroke="#888" stroke-width="1"/>
<line x1="213.9" y1="135.8" x2="224.9" y2="135.8" stroke="#888" stroke-width="1"/>
<line x1="349.5" y1="135.8" x2="360.5" y2="135.8" stroke="#888" stroke-width="1"/>
<line x1="213.9" y1="107.1" x2="224.9" y2="107.1" stroke="#888" stroke-width="1"/>
<line x1="349.5" y1="107.1" x2="360.5" y2="107.1" stroke="#888" stroke-width="1"/>
<line x1="250.6" y1="78.4" x2="250.6" y2="89.4" stroke="#777" stroke-width="1.2"/>
<line x1="250.6" y1="193.2" x2="250.6" y2="182.2" stroke="#777" stroke-width="1.2"/>
<line x1="287.2" y1="78.4" x2="287.2" y2="89.4" stroke="#777" stroke-width="1.2"/>
<line x1="287.2" y1="193.2" x2="287.2" y2="182.2" stroke="#777" stroke-width="1.2"/>
<line x1="323.9" y1="78.4" x2="323.9" y2="89.4" stroke="#777" stroke-width="1.2"/>
<line x1="323.9" y1="193.2" x2="323.9" y2="182.2" stroke="#777" stroke-width="1.2"/>
<line x1="213.9" y1="137.8" x2="360.5" y2="137.8" stroke="#8c8c8c" stroke-width="1.8" stroke-dasharray="8 5.5"/>
<clipPath id="ci"><rect x="213.9" y="78.4" width="146.6" height="114.8"/></clipPath>
<path d="M213.9 98.8 L215.4 99.8 L216.9 101.4 L218.4 103.7 L219.9 106.5 L221.4 109.8 L222.9 113.4 L224.4 117.2 L225.9 121.2 L227.4 125.2 L228.9 129.2 L230.4 133.1 L231.9 136.8 L233.4 140.4 L234.9 143.6 L236.4 146.6 L237.9 149.3 L239.4 151.8 L240.9 154.0 L242.4 156.1 L243.9 157.9 L245.4 159.7 L246.9 161.3 L248.4 162.8 L249.9 164.2 L251.4 165.5 L252.9 166.7 L254.4 167.9 L255.9 168.9 L257.4 170.0 L258.9 170.9 L260.4 171.8 L261.9 172.6 L263.4 173.3 L264.9 174.0 L266.4 174.7 L267.9 175.2 L269.4 175.8 L270.9 176.3 L272.4 176.7 L273.9 177.1 L275.4 177.5 L276.9 177.8 L278.4 178.1 L279.9 178.4 L281.4 178.7 L282.9 178.9 L284.4 179.1 L285.9 179.3 L287.4 179.5 L288.9 179.7 L290.4 179.8 L291.9 180.0 L293.4 180.2 L294.9 180.3 L296.4 180.5 L297.9 180.7 L299.4 180.8 L300.9 181.0 L302.4 181.1 L303.9 181.3 L305.4 181.4 L306.9 181.6 L308.4 181.7 L309.9 181.9 L311.4 182.0 L312.9 182.2 L314.4 182.3 L315.9 182.5 L317.4 182.6 L318.9 182.7 L320.4 182.8 L321.9 183.0 L323.4 183.1 L324.9 183.2 L326.4 183.3 L327.9 183.4 L329.4 183.5 L330.9 183.6 L332.4 183.7 L333.9 183.8 L335.4 183.9 L336.9 184.0 L338.4 184.0 L339.9 184.1 L341.4 184.2 L342.9 184.2 L344.4 184.3 L345.9 184.3 L347.4 184.4 L348.9 184.4 L350.4 184.4 L351.9 184.4 L353.4 184.4 L354.9 184.5 L356.4 184.4 L357.9 184.4 L359.4 184.4 L360.5 184.4" fill="none" stroke="#3bb696" stroke-width="3.0" stroke-dasharray="3.3 2.55" clip-path="url(#ci)"/>
<path d="M213.9 105.1 L215.4 104.8 L216.9 105.3 L218.4 106.5 L219.9 108.3 L221.4 110.7 L222.9 113.6 L224.4 116.8 L225.9 120.3 L227.4 124.0 L228.9 127.8 L230.4 131.7 L231.9 135.5 L233.4 139.2 L234.9 142.6 L236.4 145.8 L237.9 148.8 L239.4 151.5 L240.9 153.9 L242.4 156.2 L243.9 158.2 L245.4 160.1 L246.9 161.7 L248.4 163.2 L249.9 164.6 L251.4 165.7 L252.9 166.8 L254.4 167.7 L255.9 168.5 L257.4 169.1 L258.9 169.7 L260.4 170.2 L261.9 170.6 L263.4 171.0 L264.9 171.3 L266.4 171.6 L267.9 171.8 L269.4 172.0 L270.9 172.2 L272.4 172.4 L273.9 172.5 L275.4 172.6 L276.9 172.7 L278.4 172.8 L279.9 172.9 L281.4 173.0 L282.9 173.0 L284.4 173.0 L285.9 173.0 L287.4 173.0 L288.9 173.0 L290.4 173.0 L291.9 173.0 L293.4 172.9 L294.9 172.9 L296.4 172.8 L297.9 172.7 L299.4 172.7 L300.9 172.6 L302.4 172.5 L303.9 172.4 L305.4 172.3 L306.9 172.2 L308.4 172.1 L309.9 172.0 L311.4 171.9 L312.9 171.8 L314.4 171.7 L315.9 171.6 L317.4 171.5 L318.9 171.4 L320.4 171.3 L321.9 171.2 L323.4 171.1 L324.9 171.0 L326.4 171.0 L327.9 170.9 L329.4 170.8 L330.9 170.8 L332.4 170.8 L333.9 170.7 L335.4 170.7 L336.9 170.7 L338.4 170.7 L339.9 170.8 L341.4 170.8 L342.9 170.9 L344.4 170.9 L345.9 171.0 L347.4 171.1 L348.9 171.2 L350.4 171.4 L351.9 171.5 L353.4 171.7 L354.9 171.9 L356.4 172.2 L357.9 172.4 L359.4 172.7 L360.5 172.9" fill="none" stroke="#3bb696" stroke-width="3.0" stroke-dasharray="8.2 5.3" clip-path="url(#ci)"/>
<path d="M213.9 123.3 L215.4 123.5 L216.9 124.0 L218.4 124.8 L219.9 125.8 L221.4 127.0 L222.9 128.4 L224.4 129.9 L225.9 131.5 L227.4 133.3 L228.9 135.0 L230.4 136.8 L231.9 138.6 L233.4 140.4 L234.9 142.2 L236.4 143.9 L237.9 145.5 L239.4 147.0 L240.9 148.4 L242.4 149.8 L243.9 151.0 L245.4 152.2 L246.9 153.3 L248.4 154.4 L249.9 155.3 L251.4 156.2 L252.9 157.1 L254.4 157.9 L255.9 158.6 L257.4 159.3 L258.9 160.0 L260.4 160.6 L261.9 161.2 L263.4 161.8 L264.9 162.3 L266.4 162.8 L267.9 163.3 L269.4 163.8 L270.9 164.3 L272.4 164.7 L273.9 165.1 L275.4 165.5 L276.9 165.9 L278.4 166.3 L279.9 166.7 L281.4 167.0 L282.9 167.3 L284.4 167.7 L285.9 168.0 L287.4 168.2 L288.9 168.5 L290.4 168.8 L291.9 169.0 L293.4 169.3 L294.9 169.5 L296.4 169.7 L297.9 169.9 L299.4 170.1 L300.9 170.3 L302.4 170.5 L303.9 170.6 L305.4 170.8 L306.9 170.9 L308.4 171.0 L309.9 171.2 L311.4 171.3 L312.9 171.4 L314.4 171.5 L315.9 171.6 L317.4 171.7 L318.9 171.8 L320.4 171.8 L321.9 171.9 L323.4 172.0 L324.9 172.0 L326.4 172.1 L327.9 172.1 L329.4 172.2 L330.9 172.2 L332.4 172.3 L333.9 172.3 L335.4 172.3 L336.9 172.4 L338.4 172.4 L339.9 172.4 L341.4 172.5 L342.9 172.5 L344.4 172.5 L345.9 172.5 L347.4 172.6 L348.9 172.6 L350.4 172.6 L351.9 172.7 L353.4 172.7 L354.9 172.7 L356.4 172.8 L357.9 172.8 L359.4 172.9 L360.5 172.9" fill="none" stroke="#3bb696" stroke-width="3.0" clip-path="url(#ci)"/>
<path d="M213.9 173.9 L215.4 172.0 L216.9 170.0 L218.4 167.9 L219.9 165.7 L221.4 163.5 L222.9 161.2 L224.4 158.8 L225.9 156.5 L227.4 154.1 L228.9 151.6 L230.4 149.2 L231.9 146.8 L233.4 144.4 L234.9 142.0 L236.4 139.6 L237.9 137.2 L239.4 134.6 L240.9 132.0 L242.4 129.5 L243.9 127.2 L245.4 125.2 L246.9 123.3 L248.4 121.7 L249.9 120.3 L251.4 119.1 L252.9 118.0 L254.4 116.9 L255.9 116.0 L257.4 115.1 L258.9 114.3 L260.4 113.6 L261.9 112.9 L263.4 112.3 L264.9 111.7 L266.4 111.2 L267.9 110.8 L269.4 110.4 L270.9 110.0 L272.4 109.7 L273.9 109.4 L275.4 109.1 L276.9 108.9 L278.4 108.7 L279.9 108.5 L281.4 108.3 L282.9 108.2 L284.4 108.1 L285.9 107.9 L287.4 107.8 L288.9 107.7 L290.4 107.6 L291.9 107.5 L293.4 107.4 L294.9 107.3 L296.4 107.2 L297.9 107.2 L299.4 107.1 L300.9 107.0 L302.4 107.0 L303.9 106.9 L305.4 106.9 L306.9 106.8 L308.4 106.8 L309.9 106.8 L311.4 106.7 L312.9 106.7 L314.4 106.7 L315.9 106.7 L317.4 106.6 L318.9 106.6 L320.4 106.6 L321.9 106.6 L323.4 106.6 L324.9 106.6 L326.4 106.6 L327.9 106.6 L329.4 106.6 L330.9 106.6 L332.4 106.6 L333.9 106.6 L335.4 106.6 L336.9 106.6 L338.4 106.6 L339.9 106.6 L341.4 106.6 L342.9 106.6 L344.4 106.6 L345.9 106.6 L347.4 106.6 L348.9 106.6 L350.4 106.6 L351.9 106.6 L353.4 106.6 L354.9 106.6 L356.4 106.6 L357.9 106.5 L359.4 106.5 L360.5 106.5" fill="none" stroke="#2f86fd" stroke-width="3.0" stroke-dasharray="3.3 2.55" clip-path="url(#ci)"/>
<path d="M213.9 176.3 L215.4 174.3 L216.9 172.1 L218.4 169.9 L219.9 167.5 L221.4 165.1 L222.9 162.6 L224.4 160.2 L225.9 157.7 L227.4 155.2 L228.9 152.7 L230.4 150.4 L231.9 148.0 L233.4 145.8 L234.9 143.7 L236.4 141.6 L237.9 139.8 L239.4 138.0 L240.9 136.5 L242.4 135.0 L243.9 133.7 L245.4 132.6 L246.9 131.5 L248.4 130.6 L249.9 129.8 L251.4 129.1 L252.9 128.5 L254.4 128.0 L255.9 127.5 L257.4 127.2 L258.9 126.9 L260.4 126.6 L261.9 126.5 L263.4 126.3 L264.9 126.2 L266.4 126.2 L267.9 126.1 L269.4 126.2 L270.9 126.2 L272.4 126.3 L273.9 126.3 L275.4 126.5 L276.9 126.6 L278.4 126.8 L279.9 127.0 L281.4 127.2 L282.9 127.5 L284.4 127.8 L285.9 128.0 L287.4 128.4 L288.9 128.7 L290.4 129.1 L291.9 129.4 L293.4 129.8 L294.9 130.3 L296.4 130.7 L297.9 131.1 L299.4 131.6 L300.9 132.1 L302.4 132.5 L303.9 133.0 L305.4 133.6 L306.9 134.1 L308.4 134.6 L309.9 135.1 L311.4 135.7 L312.9 136.3 L314.4 136.8 L315.9 137.4 L317.4 137.9 L318.9 138.5 L320.4 139.1 L321.9 139.7 L323.4 140.3 L324.9 140.8 L326.4 141.4 L327.9 142.0 L329.4 142.6 L330.9 143.1 L332.4 143.7 L333.9 144.3 L335.4 144.8 L336.9 145.4 L338.4 145.9 L339.9 146.5 L341.4 147.0 L342.9 147.5 L344.4 148.0 L345.9 148.5 L347.4 149.0 L348.9 149.5 L350.4 149.9 L351.9 150.4 L353.4 150.8 L354.9 151.2 L356.4 151.6 L357.9 152.0 L359.4 152.3 L360.5 152.6" fill="none" stroke="#2f86fd" stroke-width="3.0" stroke-dasharray="8.2 5.3" clip-path="url(#ci)"/>
<path d="M213.9 163.7 L215.4 163.7 L216.9 163.5 L218.4 163.1 L219.9 162.5 L221.4 161.7 L222.9 160.7 L224.4 159.7 L225.9 158.7 L227.4 157.6 L228.9 156.6 L230.4 155.7 L231.9 154.8 L233.4 153.9 L234.9 153.1 L236.4 152.4 L237.9 151.7 L239.4 151.1 L240.9 150.5 L242.4 150.0 L243.9 149.5 L245.4 149.1 L246.9 148.7 L248.4 148.4 L249.9 148.1 L251.4 147.9 L252.9 147.7 L254.4 147.5 L255.9 147.4 L257.4 147.3 L258.9 147.3 L260.4 147.3 L261.9 147.3 L263.4 147.4 L264.9 147.5 L266.4 147.6 L267.9 147.8 L269.4 147.9 L270.9 148.1 L272.4 148.4 L273.9 148.6 L275.4 148.9 L276.9 149.2 L278.4 149.5 L279.9 149.8 L281.4 150.1 L282.9 150.5 L284.4 150.8 L285.9 151.2 L287.4 151.6 L288.9 152.0 L290.4 152.3 L291.9 152.7 L293.4 153.1 L294.9 153.5 L296.4 153.9 L297.9 154.3 L299.4 154.6 L300.9 155.0 L302.4 155.4 L303.9 155.7 L305.4 156.1 L306.9 156.4 L308.4 156.7 L309.9 157.1 L311.4 157.4 L312.9 157.7 L314.4 158.0 L315.9 158.3 L317.4 158.6 L318.9 158.9 L320.4 159.2 L321.9 159.5 L323.4 159.8 L324.9 160.1 L326.4 160.4 L327.9 160.7 L329.4 161.1 L330.9 161.4 L332.4 161.7 L333.9 162.0 L335.4 162.4 L336.9 162.7 L338.4 163.1 L339.9 163.4 L341.4 163.8 L342.9 164.2 L344.4 164.6 L345.9 165.0 L347.4 165.4 L348.9 165.8 L350.4 166.3 L351.9 166.7 L353.4 167.2 L354.9 167.7 L356.4 168.2 L357.9 168.8 L359.4 169.3 L360.5 169.7" fill="none" stroke="#2f86fd" stroke-width="3.0" clip-path="url(#ci)"/>
<path d="M213.9 190.7 L215.4 190.0 L216.9 189.4 L218.4 188.8 L219.9 188.2 L221.4 187.6 L222.9 187.0 L224.4 186.5 L225.9 186.0 L227.4 185.5 L228.9 185.0 L230.4 184.5 L231.9 184.0 L233.4 183.6 L234.9 183.2 L236.4 182.8 L237.9 182.4 L239.4 182.0 L240.9 181.7 L242.4 181.3 L243.9 181.0 L245.4 180.7 L246.9 180.4 L248.4 180.1 L249.9 179.8 L251.4 179.5 L252.9 179.3 L254.4 179.1 L255.9 178.8 L257.4 178.6 L258.9 178.4 L260.4 178.2 L261.9 178.1 L263.4 177.9 L264.9 177.7 L266.4 177.6 L267.9 177.5 L269.4 177.3 L270.9 177.2 L272.4 177.1 L273.9 177.0 L275.4 176.9 L276.9 176.9 L278.4 176.8 L279.9 176.7 L281.4 176.7 L282.9 176.6 L284.4 176.6 L285.9 176.5 L287.4 176.5 L288.9 176.5 L290.4 176.5 L291.9 176.5 L293.4 176.5 L294.9 176.5 L296.4 176.5 L297.9 176.5 L299.4 176.5 L300.9 176.5 L302.4 176.5 L303.9 176.5 L305.4 176.6 L306.9 176.6 L308.4 176.6 L309.9 176.7 L311.4 176.7 L312.9 176.7 L314.4 176.8 L315.9 176.8 L317.4 176.9 L318.9 176.9 L320.4 176.9 L321.9 177.0 L323.4 177.0 L324.9 177.1 L326.4 177.1 L327.9 177.1 L329.4 177.2 L330.9 177.2 L332.4 177.2 L333.9 177.3 L335.4 177.3 L336.9 177.3 L338.4 177.4 L339.9 177.4 L341.4 177.4 L342.9 177.4 L344.4 177.4 L345.9 177.4 L347.4 177.4 L348.9 177.4 L350.4 177.4 L351.9 177.4 L353.4 177.3 L354.9 177.3 L356.4 177.3 L357.9 177.2 L359.4 177.2 L360.5 177.1" fill="none" stroke="#ff3434" stroke-width="3.0" stroke-dasharray="3.3 2.55" clip-path="url(#ci)"/>
<path d="M213.9 190.1 L215.4 189.4 L216.9 188.8 L218.4 188.2 L219.9 187.6 L221.4 187.0 L222.9 186.4 L224.4 185.9 L225.9 185.3 L227.4 184.8 L228.9 184.2 L230.4 183.7 L231.9 183.2 L233.4 182.7 L234.9 182.3 L236.4 181.8 L237.9 181.3 L239.4 180.9 L240.9 180.4 L242.4 180.0 L243.9 179.6 L245.4 179.2 L246.9 178.8 L248.4 178.4 L249.9 178.0 L251.4 177.7 L252.9 177.3 L254.4 177.0 L255.9 176.7 L257.4 176.3 L258.9 176.0 L260.4 175.7 L261.9 175.4 L263.4 175.1 L264.9 174.9 L266.4 174.6 L267.9 174.3 L269.4 174.1 L270.9 173.9 L272.4 173.6 L273.9 173.4 L275.4 173.2 L276.9 173.0 L278.4 172.8 L279.9 172.6 L281.4 172.4 L282.9 172.3 L284.4 172.1 L285.9 171.9 L287.4 171.8 L288.9 171.7 L290.4 171.5 L291.9 171.4 L293.4 171.3 L294.9 171.2 L296.4 171.1 L297.9 171.0 L299.4 170.9 L300.9 170.8 L302.4 170.7 L303.9 170.7 L305.4 170.6 L306.9 170.5 L308.4 170.5 L309.9 170.4 L311.4 170.4 L312.9 170.4 L314.4 170.3 L315.9 170.3 L317.4 170.3 L318.9 170.3 L320.4 170.3 L321.9 170.3 L323.4 170.3 L324.9 170.3 L326.4 170.3 L327.9 170.3 L329.4 170.4 L330.9 170.4 L332.4 170.4 L333.9 170.5 L335.4 170.5 L336.9 170.6 L338.4 170.6 L339.9 170.7 L341.4 170.7 L342.9 170.8 L344.4 170.9 L345.9 170.9 L347.4 171.0 L348.9 171.1 L350.4 171.2 L351.9 171.3 L353.4 171.3 L354.9 171.4 L356.4 171.5 L357.9 171.6 L359.4 171.7 L360.5 171.8" fill="none" stroke="#ff3434" stroke-width="3.0" stroke-dasharray="8.2 5.3" clip-path="url(#ci)"/>
<path d="M213.9 183.2 L215.4 182.6 L216.9 182.0 L218.4 181.4 L219.9 180.9 L221.4 180.4 L222.9 179.9 L224.4 179.4 L225.9 178.9 L227.4 178.4 L228.9 178.0 L230.4 177.6 L231.9 177.1 L233.4 176.8 L234.9 176.4 L236.4 176.0 L237.9 175.7 L239.4 175.3 L240.9 175.0 L242.4 174.7 L243.9 174.4 L245.4 174.2 L246.9 173.9 L248.4 173.7 L249.9 173.4 L251.4 173.2 L252.9 173.0 L254.4 172.8 L255.9 172.7 L257.4 172.5 L258.9 172.3 L260.4 172.2 L261.9 172.1 L263.4 172.0 L264.9 171.8 L266.4 171.8 L267.9 171.7 L269.4 171.6 L270.9 171.5 L272.4 171.5 L273.9 171.4 L275.4 171.4 L276.9 171.4 L278.4 171.4 L279.9 171.4 L281.4 171.4 L282.9 171.4 L284.4 171.4 L285.9 171.4 L287.4 171.5 L288.9 171.5 L290.4 171.6 L291.9 171.6 L293.4 171.7 L294.9 171.8 L296.4 171.9 L297.9 172.0 L299.4 172.0 L300.9 172.1 L302.4 172.2 L303.9 172.4 L305.4 172.5 L306.9 172.6 L308.4 172.7 L309.9 172.8 L311.4 173.0 L312.9 173.1 L314.4 173.3 L315.9 173.4 L317.4 173.5 L318.9 173.7 L320.4 173.9 L321.9 174.0 L323.4 174.2 L324.9 174.3 L326.4 174.5 L327.9 174.7 L329.4 174.8 L330.9 175.0 L332.4 175.2 L333.9 175.3 L335.4 175.5 L336.9 175.7 L338.4 175.8 L339.9 176.0 L341.4 176.2 L342.9 176.3 L344.4 176.5 L345.9 176.7 L347.4 176.8 L348.9 177.0 L350.4 177.2 L351.9 177.3 L353.4 177.5 L354.9 177.6 L356.4 177.8 L357.9 177.9 L359.4 178.1 L360.5 178.2" fill="none" stroke="#ff3434" stroke-width="3.0" clip-path="url(#ci)"/>
<rect x="298.6" y="82.3" width="32.3" height="38.6" fill="#f1f1f1"/>
<text x="314.6" y="109.2" text-anchor="middle" font-size="23.5" font-weight="bold" font-family="Liberation Sans, sans-serif">(a)</text>
<rect x="213.9" y="78.4" width="146.6" height="114.79999999999998" fill="none" stroke="#111" stroke-width="1.2"/>
<text x="208.6" y="198.8" text-anchor="end" font-size="16" font-family="Liberation Sans, sans-serif">0</text>
<text x="208.6" y="141.4" text-anchor="end" font-size="16" font-family="Liberation Sans, sans-serif">0.5</text>
<text x="208.6" y="84.0" text-anchor="end" font-size="16" font-family="Liberation Sans, sans-serif">1</text>
<text x="213.9" y="209.8" text-anchor="middle" font-size="16" font-family="Liberation Sans, sans-serif">0</text>
<text x="250.6" y="209.8" text-anchor="middle" font-size="16" font-family="Liberation Sans, sans-serif">0.5</text>
<text x="287.2" y="209.8" text-anchor="middle" font-size="16" font-family="Liberation Sans, sans-serif">1</text>
<text x="323.9" y="209.8" text-anchor="middle" font-size="16" font-family="Liberation Sans, sans-serif">1.5</text>
<text x="360.5" y="209.8" text-anchor="middle" font-size="16" font-family="Liberation Sans, sans-serif">2</text>
<text x="287.2" y="227.6" text-anchor="middle" font-size="15.5" font-family="Liberation Sans, sans-serif">r</text>
<text transform="translate(173.2 146.4) rotate(-90)" font-size="16" font-family="Liberation Sans, sans-serif">Q<tspan font-size="11.5" dx="0.2" dy="1.6">n</tspan></text>
<rect x="631" y="89" width="35" height="28" fill="#e8e7fa"/>
<text x="648.4" y="110.4" text-anchor="middle" font-size="23.5" font-weight="bold" font-family="Liberation Sans, sans-serif">(b)</text>
<rect x="68.0" y="64.5" width="300.0" height="383.8" fill="none" stroke="#1a1a1a" stroke-width="1.3"/>
<rect x="383.7" y="64.5" width="299.7" height="383.8" fill="none" stroke="#1a1a1a" stroke-width="1.3"/>
<text x="63.5" y="452.1" text-anchor="end" font-size="21.5" font-family="Liberation Sans, sans-serif">0</text>
<text x="63.3" y="264.1" text-anchor="end" font-size="21.5" font-family="Liberation Sans, sans-serif">0.5</text>
<text x="62.4" y="75.3" text-anchor="end" font-size="21.5" font-family="Liberation Sans, sans-serif">1</text>
<text x="80.0" y="468.4" text-anchor="middle" font-size="21.5" font-family="Liberation Sans, sans-serif">2</text>
<rect x="57.9" y="461.95" width="14.1" height="1.3" fill="#000"/>
<text x="178.2" y="468.4" text-anchor="middle" font-size="21.5" font-family="Liberation Sans, sans-serif">1</text>
<rect x="155.8" y="461.95" width="14.1" height="1.3" fill="#000"/>
<text x="267.5" y="468.4" text-anchor="middle" font-size="21.5" font-family="Liberation Sans, sans-serif">0</text>
<text x="365.7" y="468.4" text-anchor="middle" font-size="21.5" font-family="Liberation Sans, sans-serif">1</text>
<text x="217.7" y="499.9" text-anchor="middle" font-size="23" font-family="Liberation Sans, sans-serif">log<tspan font-size="15.5" dy="3">10</tspan><tspan dy="-3">n</tspan><tspan font-size="15.5" dy="3">0</tspan></text>
<text x="395.7" y="468.4" text-anchor="middle" font-size="21.5" font-family="Liberation Sans, sans-serif">2</text>
<rect x="373.6" y="461.95" width="14.1" height="1.3" fill="#000"/>
<text x="493.9" y="468.4" text-anchor="middle" font-size="21.5" font-family="Liberation Sans, sans-serif">1</text>
<rect x="471.5" y="461.95" width="14.1" height="1.3" fill="#000"/>
<text x="583.2" y="468.4" text-anchor="middle" font-size="21.5" font-family="Liberation Sans, sans-serif">0</text>
<text x="681.4" y="468.4" text-anchor="middle" font-size="21.5" font-family="Liberation Sans, sans-serif">1</text>
<text x="533.3" y="499.9" text-anchor="middle" font-size="23" font-family="Liberation Sans, sans-serif">log<tspan font-size="15.5" dy="3">10</tspan><tspan dy="-3">n</tspan><tspan font-size="15.5" dy="3">0</tspan></text>
<text transform="translate(18.3 270.5) rotate(-90)" font-size="23.5" font-family="Liberation Sans, sans-serif">Q<tspan font-size="15.5" dy="2.6">n</tspan></text>
</svg>
</body></html>
